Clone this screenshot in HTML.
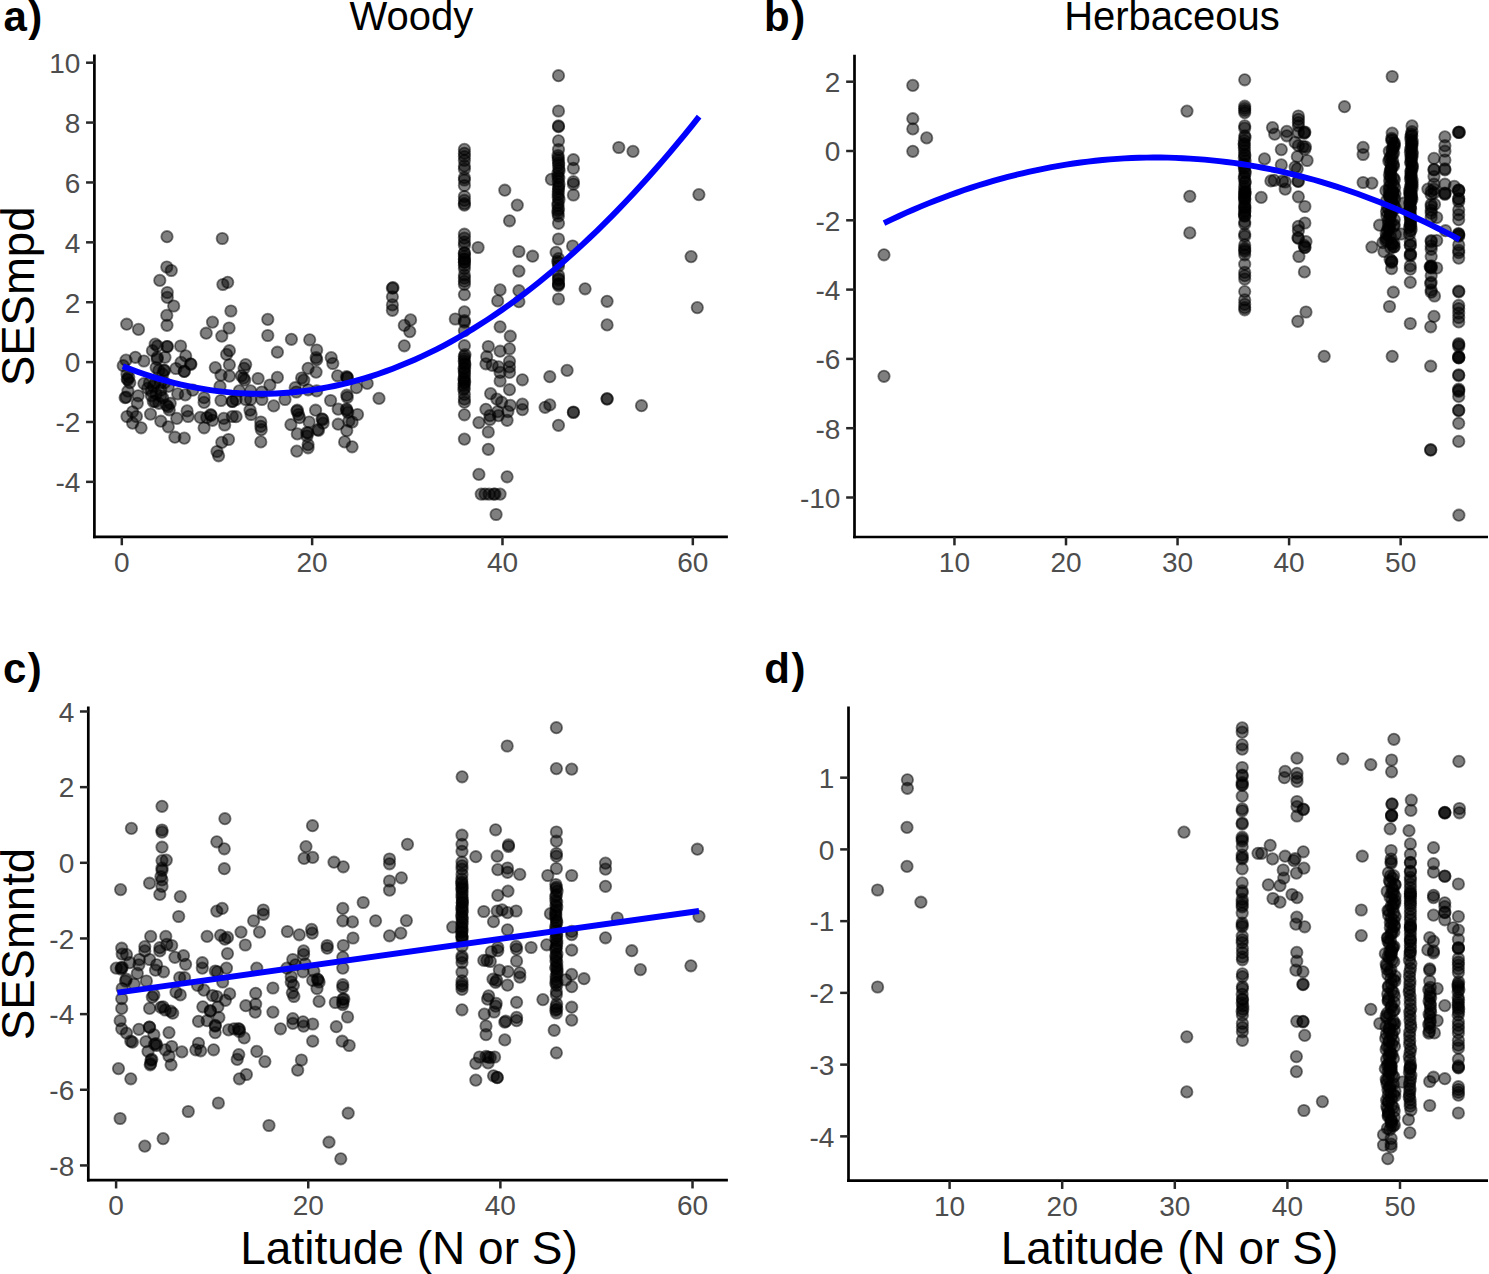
<!DOCTYPE html><html><head><meta charset="utf-8"><style>html,body{margin:0;padding:0;background:#fff;overflow:hidden;}svg{display:block;font-family:"Liberation Sans", sans-serif;}</style></head><body>
<svg width="1489" height="1274" viewBox="0 0 1489 1274">
<rect width="1489" height="1274" fill="#fff"/>
<g fill="#000" fill-opacity="0.5" stroke="#000" stroke-opacity="0.5" stroke-width="1.8">
<circle cx="167.0" cy="236.7" r="5.7"/>
<circle cx="222.3" cy="238.5" r="5.7"/>
<circle cx="166.8" cy="267.0" r="5.7"/>
<circle cx="171.3" cy="270.5" r="5.7"/>
<circle cx="159.8" cy="280.4" r="5.7"/>
<circle cx="222.9" cy="284.5" r="5.7"/>
<circle cx="227.7" cy="282.3" r="5.7"/>
<circle cx="167.3" cy="292.5" r="5.7"/>
<circle cx="167.3" cy="297.4" r="5.7"/>
<circle cx="173.7" cy="306.0" r="5.7"/>
<circle cx="230.9" cy="311.0" r="5.7"/>
<circle cx="166.8" cy="315.4" r="5.7"/>
<circle cx="212.5" cy="322.1" r="5.7"/>
<circle cx="126.7" cy="324.2" r="5.7"/>
<circle cx="138.5" cy="329.4" r="5.7"/>
<circle cx="167.0" cy="325.3" r="5.7"/>
<circle cx="229.1" cy="328.0" r="5.7"/>
<circle cx="206.2" cy="333.2" r="5.7"/>
<circle cx="221.8" cy="336.1" r="5.7"/>
<circle cx="155.2" cy="344.1" r="5.7"/>
<circle cx="157.5" cy="346.0" r="5.7"/>
<circle cx="167.4" cy="346.5" r="5.7"/>
<circle cx="180.6" cy="346.0" r="5.7"/>
<circle cx="152.4" cy="350.7" r="5.7"/>
<circle cx="165.0" cy="357.3" r="5.7"/>
<circle cx="157.1" cy="359.1" r="5.7"/>
<circle cx="185.7" cy="355.9" r="5.7"/>
<circle cx="190.9" cy="364.3" r="5.7"/>
<circle cx="181.0" cy="362.4" r="5.7"/>
<circle cx="184.3" cy="371.4" r="5.7"/>
<circle cx="175.9" cy="368.5" r="5.7"/>
<circle cx="164.6" cy="370.4" r="5.7"/>
<circle cx="156.1" cy="367.6" r="5.7"/>
<circle cx="135.4" cy="357.3" r="5.7"/>
<circle cx="126.0" cy="360.1" r="5.7"/>
<circle cx="143.9" cy="361.0" r="5.7"/>
<circle cx="123.2" cy="365.7" r="5.7"/>
<circle cx="127.9" cy="379.8" r="5.7"/>
<circle cx="128.8" cy="377.0" r="5.7"/>
<circle cx="143.9" cy="383.6" r="5.7"/>
<circle cx="153.3" cy="386.4" r="5.7"/>
<circle cx="160.8" cy="382.7" r="5.7"/>
<circle cx="168.3" cy="386.4" r="5.7"/>
<circle cx="156.1" cy="393.9" r="5.7"/>
<circle cx="127.9" cy="391.1" r="5.7"/>
<circle cx="125.1" cy="397.7" r="5.7"/>
<circle cx="138.2" cy="395.8" r="5.7"/>
<circle cx="137.3" cy="403.3" r="5.7"/>
<circle cx="155.2" cy="401.5" r="5.7"/>
<circle cx="170.2" cy="403.3" r="5.7"/>
<circle cx="177.7" cy="393.9" r="5.7"/>
<circle cx="185.3" cy="394.9" r="5.7"/>
<circle cx="192.8" cy="390.2" r="5.7"/>
<circle cx="204.1" cy="397.7" r="5.7"/>
<circle cx="204.1" cy="402.4" r="5.7"/>
<circle cx="220.0" cy="386.4" r="5.7"/>
<circle cx="221.0" cy="400.5" r="5.7"/>
<circle cx="232.3" cy="401.5" r="5.7"/>
<circle cx="215.3" cy="367.6" r="5.7"/>
<circle cx="221.0" cy="375.1" r="5.7"/>
<circle cx="229.4" cy="376.1" r="5.7"/>
<circle cx="226.6" cy="354.4" r="5.7"/>
<circle cx="229.4" cy="350.7" r="5.7"/>
<circle cx="229.4" cy="364.8" r="5.7"/>
<circle cx="132.6" cy="411.8" r="5.7"/>
<circle cx="127.0" cy="416.5" r="5.7"/>
<circle cx="136.4" cy="416.5" r="5.7"/>
<circle cx="132.6" cy="423.1" r="5.7"/>
<circle cx="141.1" cy="427.8" r="5.7"/>
<circle cx="150.5" cy="414.1" r="5.7"/>
<circle cx="160.8" cy="421.2" r="5.7"/>
<circle cx="168.3" cy="426.8" r="5.7"/>
<circle cx="169.3" cy="409.9" r="5.7"/>
<circle cx="176.8" cy="418.4" r="5.7"/>
<circle cx="187.1" cy="410.9" r="5.7"/>
<circle cx="188.1" cy="416.5" r="5.7"/>
<circle cx="200.3" cy="417.4" r="5.7"/>
<circle cx="210.6" cy="414.6" r="5.7"/>
<circle cx="212.5" cy="420.3" r="5.7"/>
<circle cx="204.1" cy="427.8" r="5.7"/>
<circle cx="223.8" cy="418.4" r="5.7"/>
<circle cx="224.7" cy="425.0" r="5.7"/>
<circle cx="232.3" cy="416.5" r="5.7"/>
<circle cx="174.9" cy="437.2" r="5.7"/>
<circle cx="184.3" cy="438.1" r="5.7"/>
<circle cx="228.5" cy="439.5" r="5.7"/>
<circle cx="151.4" cy="391.1" r="5.7"/>
<circle cx="160.8" cy="390.2" r="5.7"/>
<circle cx="153.3" cy="401.5" r="5.7"/>
<circle cx="162.7" cy="397.7" r="5.7"/>
<circle cx="166.5" cy="405.2" r="5.7"/>
<circle cx="149.5" cy="382.7" r="5.7"/>
<circle cx="127.0" cy="374.2" r="5.7"/>
<circle cx="129.8" cy="382.7" r="5.7"/>
<circle cx="158.9" cy="370.4" r="5.7"/>
<circle cx="162.7" cy="374.2" r="5.7"/>
<circle cx="151.4" cy="395.8" r="5.7"/>
<circle cx="158.9" cy="403.3" r="5.7"/>
<circle cx="164.6" cy="382.7" r="5.7"/>
<circle cx="147.7" cy="388.3" r="5.7"/>
<circle cx="155.2" cy="382.7" r="5.7"/>
<circle cx="160.8" cy="395.8" r="5.7"/>
<circle cx="267.8" cy="319.4" r="5.7"/>
<circle cx="267.8" cy="335.5" r="5.7"/>
<circle cx="291.4" cy="339.3" r="5.7"/>
<circle cx="309.7" cy="339.8" r="5.7"/>
<circle cx="392.4" cy="288.2" r="5.7"/>
<circle cx="392.4" cy="296.8" r="5.7"/>
<circle cx="392.4" cy="304.9" r="5.7"/>
<circle cx="392.4" cy="310.3" r="5.7"/>
<circle cx="277.4" cy="352.2" r="5.7"/>
<circle cx="245.7" cy="364.6" r="5.7"/>
<circle cx="244.1" cy="368.3" r="5.7"/>
<circle cx="243.6" cy="378.0" r="5.7"/>
<circle cx="241.4" cy="375.8" r="5.7"/>
<circle cx="244.7" cy="380.1" r="5.7"/>
<circle cx="258.1" cy="378.5" r="5.7"/>
<circle cx="277.4" cy="377.4" r="5.7"/>
<circle cx="269.9" cy="385.0" r="5.7"/>
<circle cx="239.3" cy="390.9" r="5.7"/>
<circle cx="250.6" cy="390.9" r="5.7"/>
<circle cx="261.9" cy="392.0" r="5.7"/>
<circle cx="236.1" cy="399.5" r="5.7"/>
<circle cx="245.7" cy="399.5" r="5.7"/>
<circle cx="250.6" cy="399.5" r="5.7"/>
<circle cx="261.9" cy="399.5" r="5.7"/>
<circle cx="273.7" cy="405.9" r="5.7"/>
<circle cx="285.0" cy="399.5" r="5.7"/>
<circle cx="296.3" cy="392.0" r="5.7"/>
<circle cx="301.6" cy="378.0" r="5.7"/>
<circle cx="303.8" cy="380.1" r="5.7"/>
<circle cx="295.2" cy="387.7" r="5.7"/>
<circle cx="308.1" cy="368.3" r="5.7"/>
<circle cx="316.1" cy="372.1" r="5.7"/>
<circle cx="316.7" cy="350.0" r="5.7"/>
<circle cx="316.1" cy="357.6" r="5.7"/>
<circle cx="316.7" cy="359.7" r="5.7"/>
<circle cx="331.2" cy="357.6" r="5.7"/>
<circle cx="332.8" cy="363.5" r="5.7"/>
<circle cx="337.6" cy="375.8" r="5.7"/>
<circle cx="347.3" cy="377.4" r="5.7"/>
<circle cx="347.3" cy="378.0" r="5.7"/>
<circle cx="356.4" cy="387.7" r="5.7"/>
<circle cx="367.2" cy="383.4" r="5.7"/>
<circle cx="379.0" cy="398.4" r="5.7"/>
<circle cx="346.8" cy="395.2" r="5.7"/>
<circle cx="347.3" cy="397.3" r="5.7"/>
<circle cx="330.6" cy="400.5" r="5.7"/>
<circle cx="308.1" cy="389.8" r="5.7"/>
<circle cx="316.7" cy="390.9" r="5.7"/>
<circle cx="297.3" cy="410.2" r="5.7"/>
<circle cx="298.4" cy="414.5" r="5.7"/>
<circle cx="299.5" cy="417.7" r="5.7"/>
<circle cx="315.6" cy="410.2" r="5.7"/>
<circle cx="290.9" cy="424.7" r="5.7"/>
<circle cx="309.1" cy="422.0" r="5.7"/>
<circle cx="322.0" cy="418.8" r="5.7"/>
<circle cx="323.1" cy="423.1" r="5.7"/>
<circle cx="317.7" cy="429.6" r="5.7"/>
<circle cx="308.1" cy="432.8" r="5.7"/>
<circle cx="307.0" cy="436.0" r="5.7"/>
<circle cx="297.3" cy="433.9" r="5.7"/>
<circle cx="308.1" cy="444.6" r="5.7"/>
<circle cx="308.1" cy="447.8" r="5.7"/>
<circle cx="296.8" cy="451.1" r="5.7"/>
<circle cx="338.2" cy="409.1" r="5.7"/>
<circle cx="346.8" cy="410.2" r="5.7"/>
<circle cx="347.8" cy="412.4" r="5.7"/>
<circle cx="357.5" cy="414.5" r="5.7"/>
<circle cx="348.9" cy="421.0" r="5.7"/>
<circle cx="352.1" cy="422.0" r="5.7"/>
<circle cx="338.2" cy="424.2" r="5.7"/>
<circle cx="346.8" cy="430.6" r="5.7"/>
<circle cx="344.6" cy="441.9" r="5.7"/>
<circle cx="352.1" cy="446.8" r="5.7"/>
<circle cx="236.1" cy="416.7" r="5.7"/>
<circle cx="250.0" cy="410.2" r="5.7"/>
<circle cx="251.1" cy="414.5" r="5.7"/>
<circle cx="260.8" cy="422.0" r="5.7"/>
<circle cx="260.8" cy="426.3" r="5.7"/>
<circle cx="261.3" cy="429.6" r="5.7"/>
<circle cx="260.8" cy="441.9" r="5.7"/>
<circle cx="221.8" cy="442.4" r="5.7"/>
<circle cx="217.0" cy="451.5" r="5.7"/>
<circle cx="218.6" cy="455.8" r="5.7"/>
<circle cx="464.4" cy="149.4" r="5.7"/>
<circle cx="464.4" cy="153.3" r="5.7"/>
<circle cx="464.4" cy="156.5" r="5.7"/>
<circle cx="464.4" cy="160.4" r="5.7"/>
<circle cx="464.4" cy="165.9" r="5.7"/>
<circle cx="464.4" cy="169.0" r="5.7"/>
<circle cx="464.4" cy="177.7" r="5.7"/>
<circle cx="464.4" cy="180.0" r="5.7"/>
<circle cx="464.4" cy="185.5" r="5.7"/>
<circle cx="464.4" cy="196.5" r="5.7"/>
<circle cx="464.4" cy="200.4" r="5.7"/>
<circle cx="464.4" cy="203.6" r="5.7"/>
<circle cx="464.4" cy="205.1" r="5.7"/>
<circle cx="464.4" cy="234.2" r="5.7"/>
<circle cx="464.4" cy="238.1" r="5.7"/>
<circle cx="464.4" cy="242.0" r="5.7"/>
<circle cx="464.4" cy="245.2" r="5.7"/>
<circle cx="464.4" cy="253.0" r="5.7"/>
<circle cx="464.4" cy="256.2" r="5.7"/>
<circle cx="464.4" cy="259.3" r="5.7"/>
<circle cx="464.4" cy="262.4" r="5.7"/>
<circle cx="464.4" cy="265.6" r="5.7"/>
<circle cx="464.4" cy="268.7" r="5.7"/>
<circle cx="464.4" cy="275.0" r="5.7"/>
<circle cx="464.4" cy="278.1" r="5.7"/>
<circle cx="464.4" cy="281.3" r="5.7"/>
<circle cx="464.4" cy="284.4" r="5.7"/>
<circle cx="464.4" cy="294.6" r="5.7"/>
<circle cx="464.4" cy="311.9" r="5.7"/>
<circle cx="464.4" cy="320.5" r="5.7"/>
<circle cx="464.4" cy="322.1" r="5.7"/>
<circle cx="464.4" cy="330.7" r="5.7"/>
<circle cx="478.1" cy="247.5" r="5.7"/>
<circle cx="504.8" cy="190.2" r="5.7"/>
<circle cx="517.3" cy="205.1" r="5.7"/>
<circle cx="509.5" cy="220.8" r="5.7"/>
<circle cx="518.9" cy="251.5" r="5.7"/>
<circle cx="518.9" cy="271.1" r="5.7"/>
<circle cx="500.1" cy="289.9" r="5.7"/>
<circle cx="497.7" cy="300.9" r="5.7"/>
<circle cx="518.9" cy="290.7" r="5.7"/>
<circle cx="518.9" cy="301.7" r="5.7"/>
<circle cx="455.3" cy="319.0" r="5.7"/>
<circle cx="500.1" cy="326.8" r="5.7"/>
<circle cx="510.3" cy="336.2" r="5.7"/>
<circle cx="464.4" cy="345.7" r="5.7"/>
<circle cx="465.0" cy="354.6" r="5.7"/>
<circle cx="464.3" cy="356.4" r="5.7"/>
<circle cx="464.4" cy="358.7" r="5.7"/>
<circle cx="464.2" cy="361.0" r="5.7"/>
<circle cx="464.7" cy="363.3" r="5.7"/>
<circle cx="464.9" cy="364.8" r="5.7"/>
<circle cx="464.7" cy="367.9" r="5.7"/>
<circle cx="464.0" cy="368.6" r="5.7"/>
<circle cx="464.3" cy="371.7" r="5.7"/>
<circle cx="464.5" cy="373.1" r="5.7"/>
<circle cx="464.5" cy="376.5" r="5.7"/>
<circle cx="464.0" cy="378.6" r="5.7"/>
<circle cx="464.2" cy="380.3" r="5.7"/>
<circle cx="464.7" cy="382.1" r="5.7"/>
<circle cx="464.2" cy="383.0" r="5.7"/>
<circle cx="463.9" cy="385.5" r="5.7"/>
<circle cx="464.4" cy="387.9" r="5.7"/>
<circle cx="463.8" cy="389.6" r="5.7"/>
<circle cx="464.4" cy="394.4" r="5.7"/>
<circle cx="464.4" cy="399.1" r="5.7"/>
<circle cx="464.4" cy="402.2" r="5.7"/>
<circle cx="464.4" cy="414.8" r="5.7"/>
<circle cx="464.4" cy="439.1" r="5.7"/>
<circle cx="488.3" cy="346.5" r="5.7"/>
<circle cx="500.1" cy="351.2" r="5.7"/>
<circle cx="509.5" cy="348.8" r="5.7"/>
<circle cx="486.7" cy="356.7" r="5.7"/>
<circle cx="485.9" cy="363.8" r="5.7"/>
<circle cx="492.2" cy="365.3" r="5.7"/>
<circle cx="498.5" cy="366.9" r="5.7"/>
<circle cx="500.1" cy="372.4" r="5.7"/>
<circle cx="509.5" cy="361.4" r="5.7"/>
<circle cx="509.5" cy="366.9" r="5.7"/>
<circle cx="509.5" cy="372.4" r="5.7"/>
<circle cx="500.1" cy="381.0" r="5.7"/>
<circle cx="509.5" cy="389.7" r="5.7"/>
<circle cx="490.6" cy="393.6" r="5.7"/>
<circle cx="496.9" cy="399.1" r="5.7"/>
<circle cx="501.6" cy="402.2" r="5.7"/>
<circle cx="510.3" cy="405.4" r="5.7"/>
<circle cx="485.9" cy="409.3" r="5.7"/>
<circle cx="489.9" cy="415.6" r="5.7"/>
<circle cx="497.7" cy="411.6" r="5.7"/>
<circle cx="498.5" cy="415.6" r="5.7"/>
<circle cx="507.9" cy="411.6" r="5.7"/>
<circle cx="507.1" cy="420.3" r="5.7"/>
<circle cx="489.9" cy="419.5" r="5.7"/>
<circle cx="478.9" cy="422.6" r="5.7"/>
<circle cx="488.3" cy="432.0" r="5.7"/>
<circle cx="488.3" cy="449.3" r="5.7"/>
<circle cx="478.9" cy="474.4" r="5.7"/>
<circle cx="507.1" cy="476.8" r="5.7"/>
<circle cx="481.2" cy="494.1" r="5.7"/>
<circle cx="489.1" cy="494.1" r="5.7"/>
<circle cx="493.8" cy="494.1" r="5.7"/>
<circle cx="500.1" cy="494.1" r="5.7"/>
<circle cx="496.1" cy="514.5" r="5.7"/>
<circle cx="558.5" cy="75.7" r="5.7"/>
<circle cx="558.5" cy="111.0" r="5.7"/>
<circle cx="558.5" cy="125.9" r="5.7"/>
<circle cx="558.5" cy="126.7" r="5.7"/>
<circle cx="558.5" cy="140.8" r="5.7"/>
<circle cx="558.5" cy="149.5" r="5.7"/>
<circle cx="558.0" cy="155.5" r="5.7"/>
<circle cx="558.3" cy="157.6" r="5.7"/>
<circle cx="558.3" cy="160.2" r="5.7"/>
<circle cx="558.7" cy="162.9" r="5.7"/>
<circle cx="558.6" cy="165.2" r="5.7"/>
<circle cx="558.8" cy="168.7" r="5.7"/>
<circle cx="559.1" cy="170.8" r="5.7"/>
<circle cx="557.9" cy="173.5" r="5.7"/>
<circle cx="558.0" cy="176.6" r="5.7"/>
<circle cx="558.8" cy="178.1" r="5.7"/>
<circle cx="558.2" cy="181.3" r="5.7"/>
<circle cx="559.0" cy="184.5" r="5.7"/>
<circle cx="558.6" cy="186.8" r="5.7"/>
<circle cx="558.5" cy="188.8" r="5.7"/>
<circle cx="558.3" cy="191.5" r="5.7"/>
<circle cx="558.2" cy="194.4" r="5.7"/>
<circle cx="558.2" cy="197.3" r="5.7"/>
<circle cx="559.0" cy="199.5" r="5.7"/>
<circle cx="558.1" cy="203.0" r="5.7"/>
<circle cx="557.9" cy="205.4" r="5.7"/>
<circle cx="558.6" cy="208.8" r="5.7"/>
<circle cx="557.9" cy="210.7" r="5.7"/>
<circle cx="558.0" cy="213.3" r="5.7"/>
<circle cx="558.4" cy="216.0" r="5.7"/>
<circle cx="558.5" cy="223.3" r="5.7"/>
<circle cx="558.5" cy="239.0" r="5.7"/>
<circle cx="556.1" cy="252.3" r="5.7"/>
<circle cx="558.5" cy="258.6" r="5.7"/>
<circle cx="573.4" cy="159.7" r="5.7"/>
<circle cx="573.4" cy="168.3" r="5.7"/>
<circle cx="573.4" cy="181.7" r="5.7"/>
<circle cx="573.4" cy="184.0" r="5.7"/>
<circle cx="573.4" cy="195.0" r="5.7"/>
<circle cx="551.4" cy="179.3" r="5.7"/>
<circle cx="532.6" cy="256.2" r="5.7"/>
<circle cx="572.6" cy="246.0" r="5.7"/>
<circle cx="557.7" cy="261.3" r="5.7"/>
<circle cx="558.5" cy="266.0" r="5.7"/>
<circle cx="558.5" cy="275.4" r="5.7"/>
<circle cx="558.5" cy="278.5" r="5.7"/>
<circle cx="558.5" cy="284.0" r="5.7"/>
<circle cx="558.5" cy="285.6" r="5.7"/>
<circle cx="558.5" cy="299.0" r="5.7"/>
<circle cx="585.1" cy="288.8" r="5.7"/>
<circle cx="607.1" cy="301.3" r="5.7"/>
<circle cx="607.1" cy="324.9" r="5.7"/>
<circle cx="522.4" cy="379.8" r="5.7"/>
<circle cx="549.8" cy="376.7" r="5.7"/>
<circle cx="567.1" cy="370.4" r="5.7"/>
<circle cx="522.4" cy="404.1" r="5.7"/>
<circle cx="522.4" cy="409.6" r="5.7"/>
<circle cx="545.1" cy="407.3" r="5.7"/>
<circle cx="549.8" cy="404.9" r="5.7"/>
<circle cx="573.4" cy="412.0" r="5.7"/>
<circle cx="573.4" cy="412.5" r="5.7"/>
<circle cx="558.5" cy="425.3" r="5.7"/>
<circle cx="607.1" cy="398.6" r="5.7"/>
<circle cx="607.1" cy="399.1" r="5.7"/>
<circle cx="618.8" cy="147.5" r="5.7"/>
<circle cx="633.0" cy="151.4" r="5.7"/>
<circle cx="698.9" cy="194.6" r="5.7"/>
<circle cx="691.1" cy="256.6" r="5.7"/>
<circle cx="697.3" cy="307.6" r="5.7"/>
<circle cx="641.5" cy="405.7" r="5.7"/>
<circle cx="393.0" cy="287.7" r="5.7"/>
<circle cx="404.3" cy="325.4" r="5.7"/>
<circle cx="410.6" cy="319.9" r="5.7"/>
<circle cx="409.8" cy="331.6" r="5.7"/>
<circle cx="404.3" cy="345.8" r="5.7"/>
<circle cx="485.0" cy="494.0" r="5.7"/>
<circle cx="495.0" cy="494.0" r="5.7"/>
<circle cx="167.0" cy="346.6" r="5.7"/>
<circle cx="190.6" cy="363.8" r="5.7"/>
<circle cx="184.2" cy="371.3" r="5.7"/>
<circle cx="127.2" cy="378.9" r="5.7"/>
<circle cx="126.2" cy="397.1" r="5.7"/>
<circle cx="163.8" cy="370.3" r="5.7"/>
<circle cx="157.3" cy="357.4" r="5.7"/>
<circle cx="168.1" cy="406.8" r="5.7"/>
<circle cx="232.5" cy="401.4" r="5.7"/>
<circle cx="206.8" cy="417.5" r="5.7"/>
<circle cx="211.1" cy="415.4" r="5.7"/>
<circle cx="346.5" cy="409.0" r="5.7"/>
<circle cx="346.5" cy="376.7" r="5.7"/>
<circle cx="306.7" cy="432.6" r="5.7"/>
<circle cx="318.5" cy="430.4" r="5.7"/>
<circle cx="322.8" cy="419.7" r="5.7"/>
<circle cx="297.0" cy="411.1" r="5.7"/>
<circle cx="464.4" cy="253.0" r="5.7"/>
<circle cx="464.4" cy="259.0" r="5.7"/>
<circle cx="558.5" cy="263.0" r="5.7"/>
<circle cx="558.5" cy="280.0" r="5.7"/>
<circle cx="558.5" cy="284.0" r="5.7"/>
<circle cx="464.4" cy="262.0" r="5.7"/>
</g>
<g fill="#000" fill-opacity="0.5" stroke="#000" stroke-opacity="0.5" stroke-width="1.8">
<circle cx="912.8" cy="85.4" r="5.7"/>
<circle cx="912.8" cy="118.7" r="5.7"/>
<circle cx="912.8" cy="128.9" r="5.7"/>
<circle cx="926.7" cy="137.9" r="5.7"/>
<circle cx="912.8" cy="151.3" r="5.7"/>
<circle cx="884.0" cy="254.8" r="5.7"/>
<circle cx="884.0" cy="376.3" r="5.7"/>
<circle cx="1187.0" cy="111.1" r="5.7"/>
<circle cx="1189.8" cy="196.3" r="5.7"/>
<circle cx="1244.7" cy="79.8" r="5.7"/>
<circle cx="1244.7" cy="106.2" r="5.7"/>
<circle cx="1244.7" cy="108.4" r="5.7"/>
<circle cx="1244.7" cy="110.5" r="5.7"/>
<circle cx="1244.7" cy="112.7" r="5.7"/>
<circle cx="1244.7" cy="125.9" r="5.7"/>
<circle cx="1244.7" cy="128.1" r="5.7"/>
<circle cx="1244.8" cy="135.8" r="5.7"/>
<circle cx="1245.0" cy="137.5" r="5.7"/>
<circle cx="1244.3" cy="140.6" r="5.7"/>
<circle cx="1244.2" cy="143.6" r="5.7"/>
<circle cx="1244.3" cy="145.1" r="5.7"/>
<circle cx="1244.3" cy="147.6" r="5.7"/>
<circle cx="1244.5" cy="150.6" r="5.7"/>
<circle cx="1244.6" cy="154.2" r="5.7"/>
<circle cx="1244.9" cy="155.7" r="5.7"/>
<circle cx="1244.3" cy="158.0" r="5.7"/>
<circle cx="1245.1" cy="160.7" r="5.7"/>
<circle cx="1244.3" cy="164.2" r="5.7"/>
<circle cx="1244.3" cy="166.6" r="5.7"/>
<circle cx="1244.4" cy="168.5" r="5.7"/>
<circle cx="1245.0" cy="171.0" r="5.7"/>
<circle cx="1245.2" cy="173.1" r="5.7"/>
<circle cx="1244.4" cy="176.3" r="5.7"/>
<circle cx="1244.3" cy="178.4" r="5.7"/>
<circle cx="1245.1" cy="181.7" r="5.7"/>
<circle cx="1245.1" cy="182.7" r="5.7"/>
<circle cx="1244.6" cy="186.4" r="5.7"/>
<circle cx="1244.8" cy="188.8" r="5.7"/>
<circle cx="1244.7" cy="191.9" r="5.7"/>
<circle cx="1245.0" cy="193.2" r="5.7"/>
<circle cx="1244.6" cy="195.9" r="5.7"/>
<circle cx="1244.9" cy="198.7" r="5.7"/>
<circle cx="1264.5" cy="158.9" r="5.7"/>
<circle cx="1261.2" cy="197.4" r="5.7"/>
<circle cx="1189.8" cy="232.9" r="5.7"/>
<circle cx="1244.9" cy="191.5" r="5.7"/>
<circle cx="1244.9" cy="193.8" r="5.7"/>
<circle cx="1244.5" cy="197.1" r="5.7"/>
<circle cx="1244.6" cy="199.6" r="5.7"/>
<circle cx="1244.8" cy="202.7" r="5.7"/>
<circle cx="1244.6" cy="206.0" r="5.7"/>
<circle cx="1244.9" cy="207.2" r="5.7"/>
<circle cx="1244.9" cy="210.6" r="5.7"/>
<circle cx="1244.4" cy="213.9" r="5.7"/>
<circle cx="1244.7" cy="215.8" r="5.7"/>
<circle cx="1244.7" cy="221.9" r="5.7"/>
<circle cx="1244.7" cy="224.1" r="5.7"/>
<circle cx="1244.7" cy="234.0" r="5.7"/>
<circle cx="1244.7" cy="236.2" r="5.7"/>
<circle cx="1244.7" cy="244.9" r="5.7"/>
<circle cx="1244.7" cy="248.2" r="5.7"/>
<circle cx="1244.7" cy="249.9" r="5.7"/>
<circle cx="1244.7" cy="251.5" r="5.7"/>
<circle cx="1244.7" cy="254.8" r="5.7"/>
<circle cx="1244.7" cy="264.2" r="5.7"/>
<circle cx="1244.7" cy="272.4" r="5.7"/>
<circle cx="1244.7" cy="275.7" r="5.7"/>
<circle cx="1244.7" cy="279.0" r="5.7"/>
<circle cx="1244.7" cy="291.6" r="5.7"/>
<circle cx="1244.7" cy="299.9" r="5.7"/>
<circle cx="1244.7" cy="304.3" r="5.7"/>
<circle cx="1244.7" cy="307.6" r="5.7"/>
<circle cx="1244.7" cy="309.8" r="5.7"/>
<circle cx="1344.5" cy="106.7" r="5.7"/>
<circle cx="1272.5" cy="127.6" r="5.7"/>
<circle cx="1274.7" cy="134.2" r="5.7"/>
<circle cx="1286.8" cy="131.4" r="5.7"/>
<circle cx="1286.8" cy="135.8" r="5.7"/>
<circle cx="1298.4" cy="116.0" r="5.7"/>
<circle cx="1298.4" cy="119.3" r="5.7"/>
<circle cx="1298.4" cy="122.6" r="5.7"/>
<circle cx="1298.4" cy="125.9" r="5.7"/>
<circle cx="1304.9" cy="132.0" r="5.7"/>
<circle cx="1298.4" cy="132.5" r="5.7"/>
<circle cx="1295.1" cy="142.4" r="5.7"/>
<circle cx="1298.4" cy="145.7" r="5.7"/>
<circle cx="1305.5" cy="146.8" r="5.7"/>
<circle cx="1304.9" cy="149.0" r="5.7"/>
<circle cx="1281.3" cy="149.6" r="5.7"/>
<circle cx="1297.3" cy="156.7" r="5.7"/>
<circle cx="1307.1" cy="160.5" r="5.7"/>
<circle cx="1281.3" cy="164.9" r="5.7"/>
<circle cx="1295.1" cy="167.1" r="5.7"/>
<circle cx="1297.3" cy="168.8" r="5.7"/>
<circle cx="1270.9" cy="180.9" r="5.7"/>
<circle cx="1274.2" cy="180.3" r="5.7"/>
<circle cx="1285.2" cy="182.0" r="5.7"/>
<circle cx="1285.2" cy="189.1" r="5.7"/>
<circle cx="1298.4" cy="181.4" r="5.7"/>
<circle cx="1298.4" cy="196.8" r="5.7"/>
<circle cx="1304.9" cy="206.5" r="5.7"/>
<circle cx="1304.9" cy="223.0" r="5.7"/>
<circle cx="1298.4" cy="226.3" r="5.7"/>
<circle cx="1298.4" cy="230.7" r="5.7"/>
<circle cx="1298.4" cy="238.4" r="5.7"/>
<circle cx="1306.0" cy="241.6" r="5.7"/>
<circle cx="1304.9" cy="247.1" r="5.7"/>
<circle cx="1304.9" cy="247.7" r="5.7"/>
<circle cx="1298.9" cy="256.5" r="5.7"/>
<circle cx="1304.4" cy="271.9" r="5.7"/>
<circle cx="1306.0" cy="312.0" r="5.7"/>
<circle cx="1297.8" cy="321.3" r="5.7"/>
<circle cx="1392.2" cy="76.5" r="5.7"/>
<circle cx="1363.1" cy="147.4" r="5.7"/>
<circle cx="1363.1" cy="154.5" r="5.7"/>
<circle cx="1363.1" cy="182.5" r="5.7"/>
<circle cx="1371.9" cy="183.1" r="5.7"/>
<circle cx="1392.2" cy="133.1" r="5.7"/>
<circle cx="1391.7" cy="138.4" r="5.7"/>
<circle cx="1392.3" cy="139.8" r="5.7"/>
<circle cx="1391.8" cy="140.7" r="5.7"/>
<circle cx="1394.4" cy="143.0" r="5.7"/>
<circle cx="1393.9" cy="143.7" r="5.7"/>
<circle cx="1394.2" cy="146.2" r="5.7"/>
<circle cx="1393.8" cy="146.4" r="5.7"/>
<circle cx="1392.2" cy="149.3" r="5.7"/>
<circle cx="1392.4" cy="150.0" r="5.7"/>
<circle cx="1389.3" cy="151.2" r="5.7"/>
<circle cx="1393.6" cy="153.1" r="5.7"/>
<circle cx="1392.3" cy="155.2" r="5.7"/>
<circle cx="1390.8" cy="156.3" r="5.7"/>
<circle cx="1389.7" cy="158.7" r="5.7"/>
<circle cx="1392.6" cy="160.6" r="5.7"/>
<circle cx="1388.8" cy="161.1" r="5.7"/>
<circle cx="1390.7" cy="162.9" r="5.7"/>
<circle cx="1393.3" cy="164.5" r="5.7"/>
<circle cx="1393.5" cy="166.1" r="5.7"/>
<circle cx="1391.5" cy="167.2" r="5.7"/>
<circle cx="1390.9" cy="169.2" r="5.7"/>
<circle cx="1390.8" cy="170.7" r="5.7"/>
<circle cx="1390.2" cy="171.5" r="5.7"/>
<circle cx="1389.4" cy="174.9" r="5.7"/>
<circle cx="1390.8" cy="176.0" r="5.7"/>
<circle cx="1393.4" cy="177.8" r="5.7"/>
<circle cx="1390.8" cy="178.1" r="5.7"/>
<circle cx="1394.4" cy="179.6" r="5.7"/>
<circle cx="1389.6" cy="181.1" r="5.7"/>
<circle cx="1391.1" cy="183.3" r="5.7"/>
<circle cx="1393.4" cy="184.4" r="5.7"/>
<circle cx="1389.5" cy="186.8" r="5.7"/>
<circle cx="1394.6" cy="187.6" r="5.7"/>
<circle cx="1389.1" cy="190.1" r="5.7"/>
<circle cx="1393.2" cy="191.8" r="5.7"/>
<circle cx="1390.0" cy="191.9" r="5.7"/>
<circle cx="1392.4" cy="193.8" r="5.7"/>
<circle cx="1389.8" cy="195.7" r="5.7"/>
<circle cx="1389.8" cy="197.3" r="5.7"/>
<circle cx="1391.1" cy="199.3" r="5.7"/>
<circle cx="1412.0" cy="125.9" r="5.7"/>
<circle cx="1412.0" cy="131.6" r="5.7"/>
<circle cx="1411.4" cy="133.9" r="5.7"/>
<circle cx="1411.8" cy="135.7" r="5.7"/>
<circle cx="1410.8" cy="136.7" r="5.7"/>
<circle cx="1410.9" cy="139.6" r="5.7"/>
<circle cx="1412.3" cy="141.1" r="5.7"/>
<circle cx="1411.3" cy="143.4" r="5.7"/>
<circle cx="1412.2" cy="143.9" r="5.7"/>
<circle cx="1411.6" cy="145.5" r="5.7"/>
<circle cx="1411.7" cy="148.3" r="5.7"/>
<circle cx="1410.6" cy="149.2" r="5.7"/>
<circle cx="1412.1" cy="151.7" r="5.7"/>
<circle cx="1410.4" cy="152.6" r="5.7"/>
<circle cx="1412.3" cy="154.2" r="5.7"/>
<circle cx="1410.9" cy="156.6" r="5.7"/>
<circle cx="1411.9" cy="157.3" r="5.7"/>
<circle cx="1411.3" cy="159.0" r="5.7"/>
<circle cx="1411.3" cy="161.8" r="5.7"/>
<circle cx="1410.5" cy="162.6" r="5.7"/>
<circle cx="1412.1" cy="165.1" r="5.7"/>
<circle cx="1412.3" cy="166.3" r="5.7"/>
<circle cx="1412.2" cy="168.4" r="5.7"/>
<circle cx="1411.4" cy="170.5" r="5.7"/>
<circle cx="1410.7" cy="171.6" r="5.7"/>
<circle cx="1411.2" cy="173.9" r="5.7"/>
<circle cx="1410.9" cy="175.8" r="5.7"/>
<circle cx="1411.1" cy="177.4" r="5.7"/>
<circle cx="1410.4" cy="178.9" r="5.7"/>
<circle cx="1412.2" cy="180.4" r="5.7"/>
<circle cx="1411.3" cy="181.9" r="5.7"/>
<circle cx="1412.3" cy="184.6" r="5.7"/>
<circle cx="1411.3" cy="185.2" r="5.7"/>
<circle cx="1410.5" cy="186.4" r="5.7"/>
<circle cx="1412.1" cy="188.4" r="5.7"/>
<circle cx="1410.8" cy="189.7" r="5.7"/>
<circle cx="1411.0" cy="193.0" r="5.7"/>
<circle cx="1411.2" cy="194.2" r="5.7"/>
<circle cx="1410.6" cy="195.2" r="5.7"/>
<circle cx="1411.1" cy="197.3" r="5.7"/>
<circle cx="1411.9" cy="199.2" r="5.7"/>
<circle cx="1444.9" cy="136.9" r="5.7"/>
<circle cx="1444.9" cy="145.7" r="5.7"/>
<circle cx="1444.9" cy="151.2" r="5.7"/>
<circle cx="1444.9" cy="160.0" r="5.7"/>
<circle cx="1444.9" cy="168.8" r="5.7"/>
<circle cx="1444.9" cy="169.9" r="5.7"/>
<circle cx="1444.9" cy="184.2" r="5.7"/>
<circle cx="1444.9" cy="193.0" r="5.7"/>
<circle cx="1444.9" cy="193.5" r="5.7"/>
<circle cx="1434.0" cy="158.4" r="5.7"/>
<circle cx="1434.0" cy="169.3" r="5.7"/>
<circle cx="1434.0" cy="169.9" r="5.7"/>
<circle cx="1434.0" cy="176.5" r="5.7"/>
<circle cx="1434.0" cy="184.2" r="5.7"/>
<circle cx="1434.0" cy="189.1" r="5.7"/>
<circle cx="1434.0" cy="193.0" r="5.7"/>
<circle cx="1427.9" cy="189.1" r="5.7"/>
<circle cx="1459.2" cy="132.0" r="5.7"/>
<circle cx="1459.2" cy="132.5" r="5.7"/>
<circle cx="1454.3" cy="186.4" r="5.7"/>
<circle cx="1458.7" cy="190.2" r="5.7"/>
<circle cx="1458.7" cy="198.5" r="5.7"/>
<circle cx="1458.7" cy="199.0" r="5.7"/>
<circle cx="1385.9" cy="190.7" r="5.7"/>
<circle cx="1392.4" cy="191.6" r="5.7"/>
<circle cx="1395.0" cy="193.8" r="5.7"/>
<circle cx="1389.3" cy="195.6" r="5.7"/>
<circle cx="1393.0" cy="195.6" r="5.7"/>
<circle cx="1390.9" cy="196.9" r="5.7"/>
<circle cx="1394.7" cy="199.0" r="5.7"/>
<circle cx="1386.8" cy="200.5" r="5.7"/>
<circle cx="1391.1" cy="201.7" r="5.7"/>
<circle cx="1391.9" cy="202.2" r="5.7"/>
<circle cx="1393.7" cy="204.6" r="5.7"/>
<circle cx="1390.5" cy="205.7" r="5.7"/>
<circle cx="1387.3" cy="207.3" r="5.7"/>
<circle cx="1395.3" cy="208.2" r="5.7"/>
<circle cx="1389.0" cy="209.0" r="5.7"/>
<circle cx="1392.3" cy="211.4" r="5.7"/>
<circle cx="1386.5" cy="211.6" r="5.7"/>
<circle cx="1390.6" cy="212.7" r="5.7"/>
<circle cx="1390.5" cy="215.0" r="5.7"/>
<circle cx="1390.4" cy="214.9" r="5.7"/>
<circle cx="1386.9" cy="216.1" r="5.7"/>
<circle cx="1389.7" cy="217.4" r="5.7"/>
<circle cx="1394.3" cy="219.6" r="5.7"/>
<circle cx="1388.4" cy="220.7" r="5.7"/>
<circle cx="1390.8" cy="222.6" r="5.7"/>
<circle cx="1388.5" cy="224.4" r="5.7"/>
<circle cx="1394.0" cy="224.5" r="5.7"/>
<circle cx="1394.0" cy="226.2" r="5.7"/>
<circle cx="1389.3" cy="227.4" r="5.7"/>
<circle cx="1388.3" cy="228.2" r="5.7"/>
<circle cx="1389.6" cy="229.5" r="5.7"/>
<circle cx="1387.3" cy="230.6" r="5.7"/>
<circle cx="1386.2" cy="233.5" r="5.7"/>
<circle cx="1395.3" cy="234.5" r="5.7"/>
<circle cx="1390.1" cy="236.2" r="5.7"/>
<circle cx="1388.5" cy="236.0" r="5.7"/>
<circle cx="1386.0" cy="237.8" r="5.7"/>
<circle cx="1385.6" cy="240.4" r="5.7"/>
<circle cx="1387.1" cy="239.8" r="5.7"/>
<circle cx="1391.5" cy="243.0" r="5.7"/>
<circle cx="1393.9" cy="243.3" r="5.7"/>
<circle cx="1392.5" cy="244.6" r="5.7"/>
<circle cx="1393.7" cy="247.0" r="5.7"/>
<circle cx="1394.2" cy="246.7" r="5.7"/>
<circle cx="1390.8" cy="247.9" r="5.7"/>
<circle cx="1384.0" cy="251.5" r="5.7"/>
<circle cx="1391.6" cy="261.4" r="5.7"/>
<circle cx="1391.6" cy="262.5" r="5.7"/>
<circle cx="1391.6" cy="268.6" r="5.7"/>
<circle cx="1379.6" cy="225.2" r="5.7"/>
<circle cx="1382.9" cy="242.7" r="5.7"/>
<circle cx="1401.0" cy="234.0" r="5.7"/>
<circle cx="1371.9" cy="247.1" r="5.7"/>
<circle cx="1393.3" cy="292.2" r="5.7"/>
<circle cx="1389.5" cy="306.5" r="5.7"/>
<circle cx="1409.6" cy="190.3" r="5.7"/>
<circle cx="1410.1" cy="193.5" r="5.7"/>
<circle cx="1409.7" cy="193.9" r="5.7"/>
<circle cx="1411.0" cy="196.2" r="5.7"/>
<circle cx="1411.2" cy="197.6" r="5.7"/>
<circle cx="1410.5" cy="199.6" r="5.7"/>
<circle cx="1410.9" cy="201.4" r="5.7"/>
<circle cx="1410.0" cy="202.5" r="5.7"/>
<circle cx="1409.7" cy="203.6" r="5.7"/>
<circle cx="1410.4" cy="206.7" r="5.7"/>
<circle cx="1410.1" cy="208.3" r="5.7"/>
<circle cx="1410.6" cy="209.1" r="5.7"/>
<circle cx="1409.3" cy="211.2" r="5.7"/>
<circle cx="1409.5" cy="212.3" r="5.7"/>
<circle cx="1410.5" cy="214.3" r="5.7"/>
<circle cx="1410.0" cy="215.6" r="5.7"/>
<circle cx="1410.3" cy="216.9" r="5.7"/>
<circle cx="1411.2" cy="219.6" r="5.7"/>
<circle cx="1410.4" cy="220.5" r="5.7"/>
<circle cx="1410.3" cy="223.9" r="5.7"/>
<circle cx="1410.4" cy="224.7" r="5.7"/>
<circle cx="1410.8" cy="226.2" r="5.7"/>
<circle cx="1409.4" cy="227.7" r="5.7"/>
<circle cx="1411.2" cy="229.5" r="5.7"/>
<circle cx="1410.3" cy="230.9" r="5.7"/>
<circle cx="1409.5" cy="234.1" r="5.7"/>
<circle cx="1410.3" cy="241.6" r="5.7"/>
<circle cx="1410.3" cy="244.9" r="5.7"/>
<circle cx="1410.3" cy="245.5" r="5.7"/>
<circle cx="1410.3" cy="254.3" r="5.7"/>
<circle cx="1410.3" cy="255.9" r="5.7"/>
<circle cx="1410.3" cy="265.8" r="5.7"/>
<circle cx="1410.3" cy="269.1" r="5.7"/>
<circle cx="1410.3" cy="282.3" r="5.7"/>
<circle cx="1410.3" cy="323.5" r="5.7"/>
<circle cx="1403.2" cy="203.2" r="5.7"/>
<circle cx="1431.2" cy="191.1" r="5.7"/>
<circle cx="1431.2" cy="194.4" r="5.7"/>
<circle cx="1431.2" cy="204.3" r="5.7"/>
<circle cx="1431.2" cy="206.5" r="5.7"/>
<circle cx="1431.2" cy="210.3" r="5.7"/>
<circle cx="1431.2" cy="213.1" r="5.7"/>
<circle cx="1431.2" cy="217.5" r="5.7"/>
<circle cx="1431.2" cy="240.5" r="5.7"/>
<circle cx="1431.2" cy="241.6" r="5.7"/>
<circle cx="1431.2" cy="246.0" r="5.7"/>
<circle cx="1431.2" cy="249.3" r="5.7"/>
<circle cx="1431.2" cy="256.5" r="5.7"/>
<circle cx="1431.2" cy="265.8" r="5.7"/>
<circle cx="1431.2" cy="266.9" r="5.7"/>
<circle cx="1431.2" cy="268.0" r="5.7"/>
<circle cx="1431.2" cy="275.7" r="5.7"/>
<circle cx="1431.2" cy="282.3" r="5.7"/>
<circle cx="1431.2" cy="290.0" r="5.7"/>
<circle cx="1431.2" cy="292.2" r="5.7"/>
<circle cx="1434.5" cy="296.0" r="5.7"/>
<circle cx="1434.0" cy="316.4" r="5.7"/>
<circle cx="1430.7" cy="326.8" r="5.7"/>
<circle cx="1434.5" cy="204.3" r="5.7"/>
<circle cx="1436.7" cy="217.5" r="5.7"/>
<circle cx="1436.7" cy="240.5" r="5.7"/>
<circle cx="1436.7" cy="268.0" r="5.7"/>
<circle cx="1444.9" cy="194.4" r="5.7"/>
<circle cx="1445.5" cy="230.7" r="5.7"/>
<circle cx="1458.7" cy="190.0" r="5.7"/>
<circle cx="1458.7" cy="191.1" r="5.7"/>
<circle cx="1458.7" cy="201.5" r="5.7"/>
<circle cx="1458.7" cy="209.8" r="5.7"/>
<circle cx="1458.7" cy="214.7" r="5.7"/>
<circle cx="1458.7" cy="219.7" r="5.7"/>
<circle cx="1458.7" cy="234.0" r="5.7"/>
<circle cx="1458.7" cy="235.1" r="5.7"/>
<circle cx="1458.7" cy="236.2" r="5.7"/>
<circle cx="1458.7" cy="244.9" r="5.7"/>
<circle cx="1458.7" cy="250.4" r="5.7"/>
<circle cx="1458.7" cy="252.6" r="5.7"/>
<circle cx="1458.7" cy="258.1" r="5.7"/>
<circle cx="1458.7" cy="291.1" r="5.7"/>
<circle cx="1458.7" cy="305.4" r="5.7"/>
<circle cx="1458.7" cy="308.7" r="5.7"/>
<circle cx="1458.7" cy="313.1" r="5.7"/>
<circle cx="1458.7" cy="317.5" r="5.7"/>
<circle cx="1458.7" cy="321.9" r="5.7"/>
<circle cx="1392.2" cy="356.3" r="5.7"/>
<circle cx="1430.7" cy="366.2" r="5.7"/>
<circle cx="1458.7" cy="343.6" r="5.7"/>
<circle cx="1458.7" cy="346.4" r="5.7"/>
<circle cx="1458.7" cy="356.3" r="5.7"/>
<circle cx="1458.7" cy="357.4" r="5.7"/>
<circle cx="1458.7" cy="357.9" r="5.7"/>
<circle cx="1458.7" cy="374.9" r="5.7"/>
<circle cx="1458.7" cy="375.5" r="5.7"/>
<circle cx="1458.7" cy="389.2" r="5.7"/>
<circle cx="1458.7" cy="390.3" r="5.7"/>
<circle cx="1458.7" cy="391.4" r="5.7"/>
<circle cx="1458.7" cy="396.4" r="5.7"/>
<circle cx="1458.7" cy="410.1" r="5.7"/>
<circle cx="1458.7" cy="410.7" r="5.7"/>
<circle cx="1458.7" cy="423.3" r="5.7"/>
<circle cx="1458.7" cy="441.4" r="5.7"/>
<circle cx="1430.7" cy="449.7" r="5.7"/>
<circle cx="1430.7" cy="450.2" r="5.7"/>
<circle cx="1458.9" cy="515.2" r="5.7"/>
<circle cx="1324.2" cy="356.3" r="5.7"/>
<circle cx="1304.2" cy="132.4" r="5.7"/>
<circle cx="1304.2" cy="133.4" r="5.7"/>
<circle cx="1303.0" cy="146.5" r="5.7"/>
<circle cx="1304.2" cy="245.4" r="5.7"/>
<circle cx="1390.1" cy="259.5" r="5.7"/>
<circle cx="1430.1" cy="266.6" r="5.7"/>
<circle cx="1458.4" cy="132.4" r="5.7"/>
<circle cx="1458.4" cy="233.6" r="5.7"/>
<circle cx="1430.6" cy="267.1" r="5.7"/>
<circle cx="1458.8" cy="344.7" r="5.7"/>
<circle cx="1458.8" cy="357.6" r="5.7"/>
<circle cx="1458.8" cy="291.8" r="5.7"/>
<circle cx="1410.6" cy="254.1" r="5.7"/>
<circle cx="1391.8" cy="261.2" r="5.7"/>
<circle cx="1430.6" cy="283.5" r="5.7"/>
<circle cx="1244.7" cy="208.0" r="5.7"/>
<circle cx="1244.7" cy="212.0" r="5.7"/>
<circle cx="1244.7" cy="216.0" r="5.7"/>
<circle cx="1282.4" cy="181.2" r="5.7"/>
<circle cx="1297.9" cy="181.2" r="5.7"/>
<circle cx="1297.9" cy="237.7" r="5.7"/>
</g>
<g fill="#000" fill-opacity="0.5" stroke="#000" stroke-opacity="0.5" stroke-width="1.8">
<circle cx="162.0" cy="806.3" r="5.7"/>
<circle cx="131.4" cy="828.4" r="5.7"/>
<circle cx="162.0" cy="830.0" r="5.7"/>
<circle cx="162.0" cy="832.1" r="5.7"/>
<circle cx="162.0" cy="847.2" r="5.7"/>
<circle cx="162.0" cy="860.6" r="5.7"/>
<circle cx="166.3" cy="860.1" r="5.7"/>
<circle cx="162.0" cy="868.1" r="5.7"/>
<circle cx="162.0" cy="870.3" r="5.7"/>
<circle cx="160.9" cy="876.7" r="5.7"/>
<circle cx="162.0" cy="879.9" r="5.7"/>
<circle cx="162.0" cy="886.4" r="5.7"/>
<circle cx="149.6" cy="883.2" r="5.7"/>
<circle cx="120.6" cy="889.6" r="5.7"/>
<circle cx="159.8" cy="894.4" r="5.7"/>
<circle cx="180.3" cy="896.6" r="5.7"/>
<circle cx="224.9" cy="818.7" r="5.7"/>
<circle cx="216.8" cy="841.8" r="5.7"/>
<circle cx="224.3" cy="848.8" r="5.7"/>
<circle cx="224.3" cy="868.7" r="5.7"/>
<circle cx="178.7" cy="916.5" r="5.7"/>
<circle cx="216.8" cy="911.1" r="5.7"/>
<circle cx="222.2" cy="908.4" r="5.7"/>
<circle cx="150.7" cy="936.4" r="5.7"/>
<circle cx="165.8" cy="936.4" r="5.7"/>
<circle cx="207.1" cy="936.4" r="5.7"/>
<circle cx="220.6" cy="935.3" r="5.7"/>
<circle cx="224.9" cy="939.1" r="5.7"/>
<circle cx="227.5" cy="937.4" r="5.7"/>
<circle cx="241.0" cy="932.1" r="5.7"/>
<circle cx="245.3" cy="945.0" r="5.7"/>
<circle cx="227.5" cy="953.6" r="5.7"/>
<circle cx="121.7" cy="948.2" r="5.7"/>
<circle cx="122.2" cy="954.1" r="5.7"/>
<circle cx="126.5" cy="954.6" r="5.7"/>
<circle cx="144.8" cy="946.6" r="5.7"/>
<circle cx="144.8" cy="950.9" r="5.7"/>
<circle cx="159.8" cy="947.7" r="5.7"/>
<circle cx="159.8" cy="950.9" r="5.7"/>
<circle cx="166.8" cy="944.4" r="5.7"/>
<circle cx="171.7" cy="945.5" r="5.7"/>
<circle cx="149.6" cy="959.5" r="5.7"/>
<circle cx="139.4" cy="959.5" r="5.7"/>
<circle cx="138.9" cy="964.8" r="5.7"/>
<circle cx="129.8" cy="962.7" r="5.7"/>
<circle cx="116.3" cy="968.1" r="5.7"/>
<circle cx="121.2" cy="969.1" r="5.7"/>
<circle cx="122.2" cy="967.5" r="5.7"/>
<circle cx="156.6" cy="964.8" r="5.7"/>
<circle cx="155.5" cy="970.2" r="5.7"/>
<circle cx="163.6" cy="971.8" r="5.7"/>
<circle cx="137.3" cy="973.4" r="5.7"/>
<circle cx="174.9" cy="957.3" r="5.7"/>
<circle cx="183.5" cy="955.7" r="5.7"/>
<circle cx="185.6" cy="964.3" r="5.7"/>
<circle cx="202.3" cy="962.7" r="5.7"/>
<circle cx="202.3" cy="968.1" r="5.7"/>
<circle cx="217.3" cy="971.8" r="5.7"/>
<circle cx="226.5" cy="968.1" r="5.7"/>
<circle cx="125.5" cy="981.0" r="5.7"/>
<circle cx="134.1" cy="984.2" r="5.7"/>
<circle cx="146.4" cy="981.0" r="5.7"/>
<circle cx="122.2" cy="988.5" r="5.7"/>
<circle cx="179.7" cy="977.7" r="5.7"/>
<circle cx="184.6" cy="977.7" r="5.7"/>
<circle cx="222.7" cy="982.0" r="5.7"/>
<circle cx="197.5" cy="985.3" r="5.7"/>
<circle cx="203.9" cy="990.1" r="5.7"/>
<circle cx="212.5" cy="995.5" r="5.7"/>
<circle cx="216.8" cy="996.5" r="5.7"/>
<circle cx="229.7" cy="993.9" r="5.7"/>
<circle cx="225.4" cy="1000.3" r="5.7"/>
<circle cx="153.9" cy="994.9" r="5.7"/>
<circle cx="152.3" cy="997.1" r="5.7"/>
<circle cx="176.0" cy="992.2" r="5.7"/>
<circle cx="180.3" cy="994.9" r="5.7"/>
<circle cx="121.7" cy="998.7" r="5.7"/>
<circle cx="121.7" cy="1008.4" r="5.7"/>
<circle cx="149.6" cy="1008.4" r="5.7"/>
<circle cx="163.1" cy="1006.8" r="5.7"/>
<circle cx="165.2" cy="1010.0" r="5.7"/>
<circle cx="170.6" cy="1011.1" r="5.7"/>
<circle cx="172.7" cy="1013.2" r="5.7"/>
<circle cx="202.8" cy="1006.8" r="5.7"/>
<circle cx="210.4" cy="1011.1" r="5.7"/>
<circle cx="217.9" cy="1006.8" r="5.7"/>
<circle cx="245.8" cy="1005.7" r="5.7"/>
<circle cx="218.9" cy="1017.5" r="5.7"/>
<circle cx="120.1" cy="1020.7" r="5.7"/>
<circle cx="121.7" cy="1028.8" r="5.7"/>
<circle cx="126.5" cy="1033.1" r="5.7"/>
<circle cx="130.8" cy="1041.2" r="5.7"/>
<circle cx="132.4" cy="1042.2" r="5.7"/>
<circle cx="138.9" cy="1029.3" r="5.7"/>
<circle cx="149.6" cy="1027.2" r="5.7"/>
<circle cx="153.9" cy="1034.7" r="5.7"/>
<circle cx="145.9" cy="1041.7" r="5.7"/>
<circle cx="154.5" cy="1044.4" r="5.7"/>
<circle cx="156.6" cy="1045.5" r="5.7"/>
<circle cx="148.0" cy="1051.4" r="5.7"/>
<circle cx="151.8" cy="1059.4" r="5.7"/>
<circle cx="150.7" cy="1063.7" r="5.7"/>
<circle cx="150.2" cy="1064.8" r="5.7"/>
<circle cx="169.0" cy="1032.6" r="5.7"/>
<circle cx="171.7" cy="1046.5" r="5.7"/>
<circle cx="165.2" cy="1049.8" r="5.7"/>
<circle cx="169.0" cy="1056.2" r="5.7"/>
<circle cx="171.1" cy="1064.8" r="5.7"/>
<circle cx="181.9" cy="1051.9" r="5.7"/>
<circle cx="198.5" cy="1021.3" r="5.7"/>
<circle cx="207.1" cy="1020.7" r="5.7"/>
<circle cx="215.2" cy="1026.1" r="5.7"/>
<circle cx="215.2" cy="1032.6" r="5.7"/>
<circle cx="228.6" cy="1029.9" r="5.7"/>
<circle cx="234.0" cy="1028.8" r="5.7"/>
<circle cx="239.4" cy="1029.3" r="5.7"/>
<circle cx="239.4" cy="1031.5" r="5.7"/>
<circle cx="244.2" cy="1037.9" r="5.7"/>
<circle cx="198.5" cy="1043.3" r="5.7"/>
<circle cx="195.8" cy="1049.8" r="5.7"/>
<circle cx="200.7" cy="1050.8" r="5.7"/>
<circle cx="213.6" cy="1049.8" r="5.7"/>
<circle cx="238.8" cy="1054.6" r="5.7"/>
<circle cx="237.2" cy="1059.4" r="5.7"/>
<circle cx="118.5" cy="1068.6" r="5.7"/>
<circle cx="130.8" cy="1078.8" r="5.7"/>
<circle cx="239.4" cy="1078.8" r="5.7"/>
<circle cx="246.4" cy="1074.5" r="5.7"/>
<circle cx="218.4" cy="1103.0" r="5.7"/>
<circle cx="188.3" cy="1111.5" r="5.7"/>
<circle cx="120.1" cy="1118.5" r="5.7"/>
<circle cx="144.8" cy="1146.1" r="5.7"/>
<circle cx="163.1" cy="1138.6" r="5.7"/>
<circle cx="269.0" cy="1125.5" r="5.7"/>
<circle cx="329.0" cy="1142.2" r="5.7"/>
<circle cx="340.8" cy="1158.8" r="5.7"/>
<circle cx="312.5" cy="825.7" r="5.7"/>
<circle cx="306.0" cy="846.6" r="5.7"/>
<circle cx="304.1" cy="858.4" r="5.7"/>
<circle cx="312.7" cy="857.4" r="5.7"/>
<circle cx="334.0" cy="862.2" r="5.7"/>
<circle cx="343.3" cy="866.8" r="5.7"/>
<circle cx="389.5" cy="859.0" r="5.7"/>
<circle cx="389.5" cy="863.8" r="5.7"/>
<circle cx="389.5" cy="881.0" r="5.7"/>
<circle cx="389.5" cy="890.1" r="5.7"/>
<circle cx="401.4" cy="877.8" r="5.7"/>
<circle cx="263.3" cy="910.0" r="5.7"/>
<circle cx="263.3" cy="914.3" r="5.7"/>
<circle cx="253.6" cy="920.8" r="5.7"/>
<circle cx="259.5" cy="932.1" r="5.7"/>
<circle cx="287.4" cy="931.5" r="5.7"/>
<circle cx="299.3" cy="934.8" r="5.7"/>
<circle cx="311.6" cy="929.4" r="5.7"/>
<circle cx="312.2" cy="933.1" r="5.7"/>
<circle cx="342.8" cy="908.4" r="5.7"/>
<circle cx="363.2" cy="902.5" r="5.7"/>
<circle cx="342.8" cy="920.8" r="5.7"/>
<circle cx="352.5" cy="921.9" r="5.7"/>
<circle cx="375.6" cy="920.8" r="5.7"/>
<circle cx="389.5" cy="935.8" r="5.7"/>
<circle cx="400.8" cy="933.1" r="5.7"/>
<circle cx="327.2" cy="945.5" r="5.7"/>
<circle cx="327.2" cy="948.2" r="5.7"/>
<circle cx="353.0" cy="938.0" r="5.7"/>
<circle cx="343.3" cy="945.5" r="5.7"/>
<circle cx="303.6" cy="950.9" r="5.7"/>
<circle cx="303.6" cy="954.6" r="5.7"/>
<circle cx="292.8" cy="959.5" r="5.7"/>
<circle cx="286.9" cy="968.1" r="5.7"/>
<circle cx="295.5" cy="964.8" r="5.7"/>
<circle cx="305.2" cy="963.8" r="5.7"/>
<circle cx="303.0" cy="971.8" r="5.7"/>
<circle cx="313.8" cy="971.3" r="5.7"/>
<circle cx="342.8" cy="957.3" r="5.7"/>
<circle cx="342.8" cy="968.1" r="5.7"/>
<circle cx="256.8" cy="968.1" r="5.7"/>
<circle cx="291.2" cy="976.7" r="5.7"/>
<circle cx="291.2" cy="982.0" r="5.7"/>
<circle cx="293.4" cy="985.3" r="5.7"/>
<circle cx="312.7" cy="980.4" r="5.7"/>
<circle cx="318.1" cy="979.9" r="5.7"/>
<circle cx="319.1" cy="982.0" r="5.7"/>
<circle cx="317.0" cy="988.5" r="5.7"/>
<circle cx="292.3" cy="992.8" r="5.7"/>
<circle cx="293.9" cy="996.5" r="5.7"/>
<circle cx="342.8" cy="984.7" r="5.7"/>
<circle cx="342.8" cy="987.4" r="5.7"/>
<circle cx="342.8" cy="999.2" r="5.7"/>
<circle cx="342.8" cy="1002.5" r="5.7"/>
<circle cx="342.8" cy="1004.6" r="5.7"/>
<circle cx="272.9" cy="988.0" r="5.7"/>
<circle cx="255.7" cy="993.3" r="5.7"/>
<circle cx="255.7" cy="1004.1" r="5.7"/>
<circle cx="319.1" cy="1001.4" r="5.7"/>
<circle cx="335.3" cy="1002.5" r="5.7"/>
<circle cx="272.9" cy="1012.1" r="5.7"/>
<circle cx="255.2" cy="1012.1" r="5.7"/>
<circle cx="292.8" cy="1018.6" r="5.7"/>
<circle cx="292.8" cy="1023.4" r="5.7"/>
<circle cx="303.0" cy="1021.8" r="5.7"/>
<circle cx="303.6" cy="1026.1" r="5.7"/>
<circle cx="312.7" cy="1024.0" r="5.7"/>
<circle cx="280.5" cy="1028.8" r="5.7"/>
<circle cx="347.6" cy="1017.0" r="5.7"/>
<circle cx="336.3" cy="1026.7" r="5.7"/>
<circle cx="312.7" cy="1041.2" r="5.7"/>
<circle cx="342.2" cy="1041.2" r="5.7"/>
<circle cx="349.2" cy="1045.5" r="5.7"/>
<circle cx="256.8" cy="1051.4" r="5.7"/>
<circle cx="264.9" cy="1061.6" r="5.7"/>
<circle cx="301.4" cy="1060.0" r="5.7"/>
<circle cx="297.7" cy="1070.2" r="5.7"/>
<circle cx="348.2" cy="1113.2" r="5.7"/>
<circle cx="507.2" cy="746.0" r="5.7"/>
<circle cx="462.1" cy="776.8" r="5.7"/>
<circle cx="556.4" cy="727.7" r="5.7"/>
<circle cx="556.4" cy="768.6" r="5.7"/>
<circle cx="495.6" cy="829.8" r="5.7"/>
<circle cx="407.5" cy="844.3" r="5.7"/>
<circle cx="406.4" cy="920.6" r="5.7"/>
<circle cx="462.0" cy="835.2" r="5.7"/>
<circle cx="462.0" cy="844.3" r="5.7"/>
<circle cx="462.0" cy="851.3" r="5.7"/>
<circle cx="462.0" cy="862.1" r="5.7"/>
<circle cx="462.0" cy="865.8" r="5.7"/>
<circle cx="462.0" cy="869.1" r="5.7"/>
<circle cx="462.0" cy="874.4" r="5.7"/>
<circle cx="461.8" cy="879.1" r="5.7"/>
<circle cx="461.9" cy="882.0" r="5.7"/>
<circle cx="461.6" cy="883.4" r="5.7"/>
<circle cx="462.3" cy="886.1" r="5.7"/>
<circle cx="461.8" cy="887.9" r="5.7"/>
<circle cx="462.0" cy="889.5" r="5.7"/>
<circle cx="462.2" cy="892.5" r="5.7"/>
<circle cx="461.9" cy="894.9" r="5.7"/>
<circle cx="462.1" cy="897.6" r="5.7"/>
<circle cx="462.4" cy="899.9" r="5.7"/>
<circle cx="462.3" cy="902.3" r="5.7"/>
<circle cx="462.2" cy="902.9" r="5.7"/>
<circle cx="462.3" cy="906.0" r="5.7"/>
<circle cx="461.6" cy="907.9" r="5.7"/>
<circle cx="462.3" cy="910.0" r="5.7"/>
<circle cx="462.2" cy="911.9" r="5.7"/>
<circle cx="461.7" cy="914.8" r="5.7"/>
<circle cx="461.9" cy="917.2" r="5.7"/>
<circle cx="462.4" cy="919.1" r="5.7"/>
<circle cx="462.0" cy="922.0" r="5.7"/>
<circle cx="462.2" cy="923.9" r="5.7"/>
<circle cx="461.6" cy="927.0" r="5.7"/>
<circle cx="462.2" cy="928.8" r="5.7"/>
<circle cx="462.0" cy="931.5" r="5.7"/>
<circle cx="461.6" cy="932.3" r="5.7"/>
<circle cx="461.8" cy="935.9" r="5.7"/>
<circle cx="462.1" cy="937.0" r="5.7"/>
<circle cx="462.1" cy="940.0" r="5.7"/>
<circle cx="462.0" cy="936.8" r="5.7"/>
<circle cx="452.7" cy="927.1" r="5.7"/>
<circle cx="475.8" cy="856.7" r="5.7"/>
<circle cx="497.2" cy="856.2" r="5.7"/>
<circle cx="508.5" cy="844.9" r="5.7"/>
<circle cx="508.5" cy="846.5" r="5.7"/>
<circle cx="497.8" cy="869.6" r="5.7"/>
<circle cx="507.5" cy="868.0" r="5.7"/>
<circle cx="507.5" cy="872.3" r="5.7"/>
<circle cx="519.8" cy="874.4" r="5.7"/>
<circle cx="508.0" cy="891.1" r="5.7"/>
<circle cx="497.8" cy="895.4" r="5.7"/>
<circle cx="483.8" cy="911.5" r="5.7"/>
<circle cx="497.2" cy="911.0" r="5.7"/>
<circle cx="502.1" cy="909.9" r="5.7"/>
<circle cx="507.5" cy="912.6" r="5.7"/>
<circle cx="516.1" cy="911.0" r="5.7"/>
<circle cx="493.5" cy="921.7" r="5.7"/>
<circle cx="507.5" cy="929.8" r="5.7"/>
<circle cx="547.8" cy="875.5" r="5.7"/>
<circle cx="556.4" cy="832.0" r="5.7"/>
<circle cx="556.4" cy="841.1" r="5.7"/>
<circle cx="556.4" cy="853.5" r="5.7"/>
<circle cx="556.4" cy="856.2" r="5.7"/>
<circle cx="556.4" cy="868.5" r="5.7"/>
<circle cx="555.8" cy="884.5" r="5.7"/>
<circle cx="556.5" cy="887.1" r="5.7"/>
<circle cx="556.0" cy="888.6" r="5.7"/>
<circle cx="557.1" cy="891.1" r="5.7"/>
<circle cx="556.4" cy="894.9" r="5.7"/>
<circle cx="555.7" cy="896.5" r="5.7"/>
<circle cx="555.8" cy="900.5" r="5.7"/>
<circle cx="556.7" cy="902.2" r="5.7"/>
<circle cx="555.9" cy="905.6" r="5.7"/>
<circle cx="556.8" cy="907.1" r="5.7"/>
<circle cx="556.1" cy="910.1" r="5.7"/>
<circle cx="555.6" cy="912.8" r="5.7"/>
<circle cx="555.9" cy="915.1" r="5.7"/>
<circle cx="555.7" cy="917.4" r="5.7"/>
<circle cx="556.5" cy="920.5" r="5.7"/>
<circle cx="556.8" cy="922.3" r="5.7"/>
<circle cx="556.1" cy="924.8" r="5.7"/>
<circle cx="555.6" cy="928.2" r="5.7"/>
<circle cx="555.9" cy="930.9" r="5.7"/>
<circle cx="556.7" cy="934.2" r="5.7"/>
<circle cx="556.6" cy="936.2" r="5.7"/>
<circle cx="555.8" cy="938.4" r="5.7"/>
<circle cx="556.8" cy="940.7" r="5.7"/>
<circle cx="556.8" cy="943.3" r="5.7"/>
<circle cx="550.4" cy="913.7" r="5.7"/>
<circle cx="462.0" cy="946.4" r="5.7"/>
<circle cx="462.0" cy="956.1" r="5.7"/>
<circle cx="462.0" cy="958.3" r="5.7"/>
<circle cx="462.0" cy="962.6" r="5.7"/>
<circle cx="462.0" cy="972.2" r="5.7"/>
<circle cx="462.0" cy="980.8" r="5.7"/>
<circle cx="462.0" cy="984.1" r="5.7"/>
<circle cx="462.0" cy="986.2" r="5.7"/>
<circle cx="462.0" cy="989.4" r="5.7"/>
<circle cx="462.0" cy="1009.8" r="5.7"/>
<circle cx="483.8" cy="960.4" r="5.7"/>
<circle cx="487.0" cy="960.4" r="5.7"/>
<circle cx="490.3" cy="961.5" r="5.7"/>
<circle cx="491.3" cy="951.8" r="5.7"/>
<circle cx="497.8" cy="947.5" r="5.7"/>
<circle cx="497.8" cy="950.7" r="5.7"/>
<circle cx="516.1" cy="946.4" r="5.7"/>
<circle cx="516.6" cy="949.1" r="5.7"/>
<circle cx="531.1" cy="947.5" r="5.7"/>
<circle cx="546.7" cy="944.8" r="5.7"/>
<circle cx="516.6" cy="961.0" r="5.7"/>
<circle cx="499.4" cy="970.1" r="5.7"/>
<circle cx="508.0" cy="971.7" r="5.7"/>
<circle cx="519.8" cy="972.8" r="5.7"/>
<circle cx="519.8" cy="977.1" r="5.7"/>
<circle cx="493.0" cy="979.2" r="5.7"/>
<circle cx="496.7" cy="980.3" r="5.7"/>
<circle cx="495.6" cy="982.4" r="5.7"/>
<circle cx="507.5" cy="985.1" r="5.7"/>
<circle cx="488.7" cy="995.9" r="5.7"/>
<circle cx="487.6" cy="999.1" r="5.7"/>
<circle cx="496.2" cy="1003.4" r="5.7"/>
<circle cx="495.6" cy="1006.1" r="5.7"/>
<circle cx="516.6" cy="1002.3" r="5.7"/>
<circle cx="542.9" cy="999.6" r="5.7"/>
<circle cx="484.4" cy="1014.1" r="5.7"/>
<circle cx="494.0" cy="1012.0" r="5.7"/>
<circle cx="504.8" cy="1022.2" r="5.7"/>
<circle cx="505.8" cy="1021.1" r="5.7"/>
<circle cx="516.6" cy="1017.4" r="5.7"/>
<circle cx="516.6" cy="1020.6" r="5.7"/>
<circle cx="486.0" cy="1026.0" r="5.7"/>
<circle cx="486.0" cy="1034.6" r="5.7"/>
<circle cx="504.8" cy="1039.9" r="5.7"/>
<circle cx="554.2" cy="1030.3" r="5.7"/>
<circle cx="556.4" cy="1052.8" r="5.7"/>
<circle cx="556.5" cy="946.4" r="5.7"/>
<circle cx="555.8" cy="948.2" r="5.7"/>
<circle cx="556.1" cy="950.2" r="5.7"/>
<circle cx="556.9" cy="954.2" r="5.7"/>
<circle cx="555.7" cy="955.9" r="5.7"/>
<circle cx="556.5" cy="957.7" r="5.7"/>
<circle cx="555.9" cy="960.8" r="5.7"/>
<circle cx="556.8" cy="962.3" r="5.7"/>
<circle cx="556.8" cy="966.1" r="5.7"/>
<circle cx="555.6" cy="967.8" r="5.7"/>
<circle cx="557.1" cy="969.0" r="5.7"/>
<circle cx="557.0" cy="971.7" r="5.7"/>
<circle cx="557.0" cy="974.0" r="5.7"/>
<circle cx="556.1" cy="976.4" r="5.7"/>
<circle cx="556.2" cy="979.5" r="5.7"/>
<circle cx="557.0" cy="982.2" r="5.7"/>
<circle cx="555.7" cy="983.0" r="5.7"/>
<circle cx="556.7" cy="985.4" r="5.7"/>
<circle cx="556.4" cy="991.6" r="5.7"/>
<circle cx="556.4" cy="994.8" r="5.7"/>
<circle cx="556.7" cy="1003.9" r="5.7"/>
<circle cx="556.1" cy="1006.7" r="5.7"/>
<circle cx="556.7" cy="1009.2" r="5.7"/>
<circle cx="555.7" cy="1010.3" r="5.7"/>
<circle cx="556.5" cy="1013.0" r="5.7"/>
<circle cx="479.5" cy="1057.0" r="5.7"/>
<circle cx="486.0" cy="1056.4" r="5.7"/>
<circle cx="488.1" cy="1057.0" r="5.7"/>
<circle cx="490.3" cy="1057.5" r="5.7"/>
<circle cx="494.6" cy="1057.0" r="5.7"/>
<circle cx="475.8" cy="1063.4" r="5.7"/>
<circle cx="488.1" cy="1062.9" r="5.7"/>
<circle cx="493.5" cy="1075.8" r="5.7"/>
<circle cx="497.2" cy="1077.4" r="5.7"/>
<circle cx="497.2" cy="1077.7" r="5.7"/>
<circle cx="475.8" cy="1080.1" r="5.7"/>
<circle cx="571.7" cy="769.1" r="5.7"/>
<circle cx="697.4" cy="849.2" r="5.7"/>
<circle cx="605.5" cy="863.1" r="5.7"/>
<circle cx="605.5" cy="869.1" r="5.7"/>
<circle cx="571.7" cy="875.5" r="5.7"/>
<circle cx="605.5" cy="886.3" r="5.7"/>
<circle cx="617.3" cy="918.0" r="5.7"/>
<circle cx="699.0" cy="916.3" r="5.7"/>
<circle cx="571.7" cy="931.4" r="5.7"/>
<circle cx="571.7" cy="934.6" r="5.7"/>
<circle cx="605.5" cy="937.8" r="5.7"/>
<circle cx="571.7" cy="950.2" r="5.7"/>
<circle cx="631.8" cy="950.7" r="5.7"/>
<circle cx="640.4" cy="969.6" r="5.7"/>
<circle cx="690.9" cy="965.8" r="5.7"/>
<circle cx="571.7" cy="974.4" r="5.7"/>
<circle cx="584.0" cy="978.7" r="5.7"/>
<circle cx="571.7" cy="986.7" r="5.7"/>
<circle cx="565.7" cy="979.8" r="5.7"/>
<circle cx="571.7" cy="1007.2" r="5.7"/>
<circle cx="571.7" cy="1020.1" r="5.7"/>
<circle cx="121.3" cy="967.7" r="5.7"/>
<circle cx="126.3" cy="979.2" r="5.7"/>
<circle cx="215.3" cy="971.0" r="5.7"/>
<circle cx="155.9" cy="1043.5" r="5.7"/>
<circle cx="149.3" cy="1027.1" r="5.7"/>
<circle cx="151.0" cy="1060.0" r="5.7"/>
<circle cx="160.9" cy="1007.3" r="5.7"/>
<circle cx="210.3" cy="1010.6" r="5.7"/>
<circle cx="215.3" cy="1025.4" r="5.7"/>
<circle cx="238.4" cy="1028.7" r="5.7"/>
<circle cx="343.9" cy="999.0" r="5.7"/>
<circle cx="317.5" cy="979.2" r="5.7"/>
</g>
<g fill="#000" fill-opacity="0.5" stroke="#000" stroke-opacity="0.5" stroke-width="1.8">
<circle cx="907.4" cy="779.8" r="5.7"/>
<circle cx="907.4" cy="788.3" r="5.7"/>
<circle cx="907.0" cy="827.4" r="5.7"/>
<circle cx="907.0" cy="866.4" r="5.7"/>
<circle cx="877.6" cy="890.0" r="5.7"/>
<circle cx="920.9" cy="902.2" r="5.7"/>
<circle cx="877.6" cy="987.0" r="5.7"/>
<circle cx="1242.2" cy="727.9" r="5.7"/>
<circle cx="1242.2" cy="732.1" r="5.7"/>
<circle cx="1242.2" cy="744.8" r="5.7"/>
<circle cx="1242.2" cy="749.1" r="5.7"/>
<circle cx="1242.2" cy="767.5" r="5.7"/>
<circle cx="1242.2" cy="775.0" r="5.7"/>
<circle cx="1242.2" cy="775.9" r="5.7"/>
<circle cx="1242.2" cy="782.5" r="5.7"/>
<circle cx="1242.2" cy="784.4" r="5.7"/>
<circle cx="1242.2" cy="785.4" r="5.7"/>
<circle cx="1242.2" cy="796.2" r="5.7"/>
<circle cx="1242.2" cy="808.9" r="5.7"/>
<circle cx="1242.2" cy="810.8" r="5.7"/>
<circle cx="1242.2" cy="823.0" r="5.7"/>
<circle cx="1242.2" cy="824.0" r="5.7"/>
<circle cx="1184.0" cy="832.1" r="5.7"/>
<circle cx="1242.2" cy="837.2" r="5.7"/>
<circle cx="1242.2" cy="839.1" r="5.7"/>
<circle cx="1242.2" cy="841.0" r="5.7"/>
<circle cx="1242.2" cy="846.7" r="5.7"/>
<circle cx="1242.2" cy="855.1" r="5.7"/>
<circle cx="1242.2" cy="857.5" r="5.7"/>
<circle cx="1242.2" cy="858.9" r="5.7"/>
<circle cx="1242.2" cy="868.8" r="5.7"/>
<circle cx="1242.2" cy="882.9" r="5.7"/>
<circle cx="1242.2" cy="890.9" r="5.7"/>
<circle cx="1242.2" cy="892.8" r="5.7"/>
<circle cx="1242.2" cy="899.4" r="5.7"/>
<circle cx="1242.2" cy="902.2" r="5.7"/>
<circle cx="1242.2" cy="905.1" r="5.7"/>
<circle cx="1242.2" cy="906.9" r="5.7"/>
<circle cx="1242.2" cy="913.1" r="5.7"/>
<circle cx="1242.2" cy="923.0" r="5.7"/>
<circle cx="1242.2" cy="924.8" r="5.7"/>
<circle cx="1242.2" cy="926.7" r="5.7"/>
<circle cx="1242.2" cy="936.1" r="5.7"/>
<circle cx="1242.2" cy="939.9" r="5.7"/>
<circle cx="1242.2" cy="942.7" r="5.7"/>
<circle cx="1258.0" cy="853.3" r="5.7"/>
<circle cx="1261.7" cy="853.3" r="5.7"/>
<circle cx="1270.2" cy="845.3" r="5.7"/>
<circle cx="1272.6" cy="858.9" r="5.7"/>
<circle cx="1268.3" cy="884.8" r="5.7"/>
<circle cx="1273.0" cy="898.5" r="5.7"/>
<circle cx="1242.4" cy="948.5" r="5.7"/>
<circle cx="1242.4" cy="952.7" r="5.7"/>
<circle cx="1242.4" cy="957.0" r="5.7"/>
<circle cx="1242.4" cy="959.8" r="5.7"/>
<circle cx="1242.4" cy="973.9" r="5.7"/>
<circle cx="1242.4" cy="976.7" r="5.7"/>
<circle cx="1242.4" cy="986.6" r="5.7"/>
<circle cx="1242.4" cy="988.7" r="5.7"/>
<circle cx="1242.2" cy="994.3" r="5.7"/>
<circle cx="1242.4" cy="998.8" r="5.7"/>
<circle cx="1242.6" cy="999.8" r="5.7"/>
<circle cx="1242.2" cy="1003.0" r="5.7"/>
<circle cx="1242.8" cy="1005.9" r="5.7"/>
<circle cx="1242.8" cy="1009.2" r="5.7"/>
<circle cx="1242.1" cy="1011.4" r="5.7"/>
<circle cx="1242.4" cy="1015.0" r="5.7"/>
<circle cx="1242.4" cy="1023.4" r="5.7"/>
<circle cx="1242.4" cy="1027.6" r="5.7"/>
<circle cx="1242.4" cy="1031.8" r="5.7"/>
<circle cx="1242.4" cy="1040.3" r="5.7"/>
<circle cx="1186.8" cy="1036.8" r="5.7"/>
<circle cx="1186.8" cy="1091.9" r="5.7"/>
<circle cx="1297.0" cy="758.2" r="5.7"/>
<circle cx="1285.1" cy="771.4" r="5.7"/>
<circle cx="1284.4" cy="777.7" r="5.7"/>
<circle cx="1297.0" cy="773.3" r="5.7"/>
<circle cx="1297.0" cy="777.7" r="5.7"/>
<circle cx="1297.0" cy="781.4" r="5.7"/>
<circle cx="1297.0" cy="801.5" r="5.7"/>
<circle cx="1297.0" cy="806.6" r="5.7"/>
<circle cx="1303.3" cy="809.1" r="5.7"/>
<circle cx="1303.3" cy="809.5" r="5.7"/>
<circle cx="1297.0" cy="816.0" r="5.7"/>
<circle cx="1342.8" cy="758.8" r="5.7"/>
<circle cx="1362.3" cy="856.2" r="5.7"/>
<circle cx="1285.1" cy="856.2" r="5.7"/>
<circle cx="1295.1" cy="858.7" r="5.7"/>
<circle cx="1303.3" cy="851.8" r="5.7"/>
<circle cx="1293.9" cy="860.6" r="5.7"/>
<circle cx="1303.9" cy="868.1" r="5.7"/>
<circle cx="1296.4" cy="873.1" r="5.7"/>
<circle cx="1283.2" cy="870.0" r="5.7"/>
<circle cx="1283.8" cy="878.1" r="5.7"/>
<circle cx="1280.0" cy="885.7" r="5.7"/>
<circle cx="1292.0" cy="894.5" r="5.7"/>
<circle cx="1297.0" cy="897.6" r="5.7"/>
<circle cx="1280.0" cy="902.1" r="5.7"/>
<circle cx="1296.8" cy="917.1" r="5.7"/>
<circle cx="1295.9" cy="924.1" r="5.7"/>
<circle cx="1304.7" cy="926.8" r="5.7"/>
<circle cx="1296.8" cy="952.4" r="5.7"/>
<circle cx="1296.8" cy="961.2" r="5.7"/>
<circle cx="1295.9" cy="970.1" r="5.7"/>
<circle cx="1303.0" cy="971.8" r="5.7"/>
<circle cx="1303.0" cy="984.2" r="5.7"/>
<circle cx="1303.0" cy="984.7" r="5.7"/>
<circle cx="1296.8" cy="1021.3" r="5.7"/>
<circle cx="1303.0" cy="1021.3" r="5.7"/>
<circle cx="1303.0" cy="1021.8" r="5.7"/>
<circle cx="1304.7" cy="1035.4" r="5.7"/>
<circle cx="1296.4" cy="1056.6" r="5.7"/>
<circle cx="1296.4" cy="1071.6" r="5.7"/>
<circle cx="1322.4" cy="1101.6" r="5.7"/>
<circle cx="1303.9" cy="1110.5" r="5.7"/>
<circle cx="1361.3" cy="910.0" r="5.7"/>
<circle cx="1361.3" cy="935.6" r="5.7"/>
<circle cx="1393.9" cy="739.3" r="5.7"/>
<circle cx="1370.8" cy="764.7" r="5.7"/>
<circle cx="1391.6" cy="760.0" r="5.7"/>
<circle cx="1391.6" cy="771.8" r="5.7"/>
<circle cx="1458.9" cy="761.4" r="5.7"/>
<circle cx="1392.0" cy="803.8" r="5.7"/>
<circle cx="1392.0" cy="804.3" r="5.7"/>
<circle cx="1391.6" cy="815.1" r="5.7"/>
<circle cx="1391.6" cy="815.6" r="5.7"/>
<circle cx="1391.6" cy="816.1" r="5.7"/>
<circle cx="1411.3" cy="800.1" r="5.7"/>
<circle cx="1410.9" cy="810.4" r="5.7"/>
<circle cx="1444.8" cy="812.3" r="5.7"/>
<circle cx="1444.8" cy="812.7" r="5.7"/>
<circle cx="1444.8" cy="813.1" r="5.7"/>
<circle cx="1459.4" cy="808.5" r="5.7"/>
<circle cx="1459.4" cy="812.8" r="5.7"/>
<circle cx="1390.1" cy="828.8" r="5.7"/>
<circle cx="1409.0" cy="830.7" r="5.7"/>
<circle cx="1391.1" cy="850.5" r="5.7"/>
<circle cx="1391.1" cy="859.0" r="5.7"/>
<circle cx="1391.1" cy="861.8" r="5.7"/>
<circle cx="1391.1" cy="863.3" r="5.7"/>
<circle cx="1388.4" cy="872.8" r="5.7"/>
<circle cx="1393.7" cy="875.7" r="5.7"/>
<circle cx="1390.4" cy="876.0" r="5.7"/>
<circle cx="1392.6" cy="878.3" r="5.7"/>
<circle cx="1389.4" cy="880.7" r="5.7"/>
<circle cx="1390.3" cy="882.2" r="5.7"/>
<circle cx="1395.0" cy="884.4" r="5.7"/>
<circle cx="1395.0" cy="884.9" r="5.7"/>
<circle cx="1391.9" cy="887.3" r="5.7"/>
<circle cx="1393.1" cy="890.0" r="5.7"/>
<circle cx="1387.2" cy="891.5" r="5.7"/>
<circle cx="1391.7" cy="893.1" r="5.7"/>
<circle cx="1393.5" cy="893.5" r="5.7"/>
<circle cx="1395.0" cy="896.2" r="5.7"/>
<circle cx="1390.0" cy="897.0" r="5.7"/>
<circle cx="1392.1" cy="899.6" r="5.7"/>
<circle cx="1395.0" cy="900.6" r="5.7"/>
<circle cx="1394.8" cy="903.6" r="5.7"/>
<circle cx="1393.3" cy="904.0" r="5.7"/>
<circle cx="1391.2" cy="906.0" r="5.7"/>
<circle cx="1393.0" cy="908.2" r="5.7"/>
<circle cx="1388.0" cy="910.3" r="5.7"/>
<circle cx="1389.1" cy="910.6" r="5.7"/>
<circle cx="1393.7" cy="913.2" r="5.7"/>
<circle cx="1388.6" cy="915.1" r="5.7"/>
<circle cx="1395.1" cy="916.6" r="5.7"/>
<circle cx="1391.3" cy="918.3" r="5.7"/>
<circle cx="1393.9" cy="920.4" r="5.7"/>
<circle cx="1390.3" cy="922.5" r="5.7"/>
<circle cx="1391.9" cy="923.1" r="5.7"/>
<circle cx="1394.1" cy="925.4" r="5.7"/>
<circle cx="1394.4" cy="926.5" r="5.7"/>
<circle cx="1390.3" cy="927.7" r="5.7"/>
<circle cx="1392.0" cy="930.3" r="5.7"/>
<circle cx="1393.9" cy="932.0" r="5.7"/>
<circle cx="1391.8" cy="932.9" r="5.7"/>
<circle cx="1390.8" cy="934.9" r="5.7"/>
<circle cx="1387.4" cy="937.6" r="5.7"/>
<circle cx="1387.9" cy="937.9" r="5.7"/>
<circle cx="1388.0" cy="941.3" r="5.7"/>
<circle cx="1390.5" cy="941.2" r="5.7"/>
<circle cx="1389.2" cy="943.1" r="5.7"/>
<circle cx="1393.9" cy="946.3" r="5.7"/>
<circle cx="1392.9" cy="947.3" r="5.7"/>
<circle cx="1392.5" cy="948.5" r="5.7"/>
<circle cx="1391.6" cy="951.7" r="5.7"/>
<circle cx="1389.7" cy="951.4" r="5.7"/>
<circle cx="1390.8" cy="954.7" r="5.7"/>
<circle cx="1410.4" cy="843.9" r="5.7"/>
<circle cx="1410.4" cy="854.3" r="5.7"/>
<circle cx="1410.4" cy="862.3" r="5.7"/>
<circle cx="1410.4" cy="862.8" r="5.7"/>
<circle cx="1410.4" cy="871.3" r="5.7"/>
<circle cx="1410.4" cy="871.7" r="5.7"/>
<circle cx="1410.4" cy="884.0" r="5.7"/>
<circle cx="1410.4" cy="887.7" r="5.7"/>
<circle cx="1410.4" cy="893.4" r="5.7"/>
<circle cx="1410.4" cy="893.9" r="5.7"/>
<circle cx="1410.4" cy="900.9" r="5.7"/>
<circle cx="1410.4" cy="903.3" r="5.7"/>
<circle cx="1410.4" cy="905.6" r="5.7"/>
<circle cx="1410.4" cy="916.9" r="5.7"/>
<circle cx="1410.4" cy="924.5" r="5.7"/>
<circle cx="1410.4" cy="925.9" r="5.7"/>
<circle cx="1410.4" cy="927.3" r="5.7"/>
<circle cx="1410.4" cy="928.2" r="5.7"/>
<circle cx="1410.4" cy="938.6" r="5.7"/>
<circle cx="1410.4" cy="940.0" r="5.7"/>
<circle cx="1410.4" cy="941.4" r="5.7"/>
<circle cx="1410.4" cy="951.8" r="5.7"/>
<circle cx="1433.5" cy="847.7" r="5.7"/>
<circle cx="1433.5" cy="863.7" r="5.7"/>
<circle cx="1433.5" cy="872.2" r="5.7"/>
<circle cx="1433.5" cy="895.3" r="5.7"/>
<circle cx="1433.5" cy="897.6" r="5.7"/>
<circle cx="1433.5" cy="915.1" r="5.7"/>
<circle cx="1429.7" cy="937.7" r="5.7"/>
<circle cx="1433.5" cy="941.4" r="5.7"/>
<circle cx="1427.8" cy="949.9" r="5.7"/>
<circle cx="1433.5" cy="950.9" r="5.7"/>
<circle cx="1444.8" cy="876.0" r="5.7"/>
<circle cx="1444.8" cy="876.4" r="5.7"/>
<circle cx="1444.8" cy="902.8" r="5.7"/>
<circle cx="1444.8" cy="906.6" r="5.7"/>
<circle cx="1444.8" cy="912.2" r="5.7"/>
<circle cx="1444.8" cy="912.7" r="5.7"/>
<circle cx="1444.8" cy="919.8" r="5.7"/>
<circle cx="1458.4" cy="884.0" r="5.7"/>
<circle cx="1458.4" cy="916.5" r="5.7"/>
<circle cx="1453.2" cy="927.8" r="5.7"/>
<circle cx="1458.4" cy="930.1" r="5.7"/>
<circle cx="1458.4" cy="939.5" r="5.7"/>
<circle cx="1458.4" cy="947.6" r="5.7"/>
<circle cx="1458.4" cy="948.0" r="5.7"/>
<circle cx="1458.4" cy="948.5" r="5.7"/>
<circle cx="1391.2" cy="950.8" r="5.7"/>
<circle cx="1385.3" cy="953.7" r="5.7"/>
<circle cx="1391.2" cy="954.9" r="5.7"/>
<circle cx="1388.1" cy="956.7" r="5.7"/>
<circle cx="1389.5" cy="958.3" r="5.7"/>
<circle cx="1392.1" cy="960.2" r="5.7"/>
<circle cx="1393.8" cy="961.7" r="5.7"/>
<circle cx="1386.2" cy="964.2" r="5.7"/>
<circle cx="1386.7" cy="965.8" r="5.7"/>
<circle cx="1387.1" cy="969.2" r="5.7"/>
<circle cx="1390.9" cy="969.5" r="5.7"/>
<circle cx="1390.0" cy="971.8" r="5.7"/>
<circle cx="1387.9" cy="974.5" r="5.7"/>
<circle cx="1395.0" cy="976.2" r="5.7"/>
<circle cx="1390.9" cy="978.8" r="5.7"/>
<circle cx="1393.6" cy="979.6" r="5.7"/>
<circle cx="1394.8" cy="981.1" r="5.7"/>
<circle cx="1391.4" cy="983.9" r="5.7"/>
<circle cx="1388.6" cy="986.0" r="5.7"/>
<circle cx="1388.3" cy="987.1" r="5.7"/>
<circle cx="1391.7" cy="990.6" r="5.7"/>
<circle cx="1393.4" cy="992.3" r="5.7"/>
<circle cx="1387.7" cy="994.0" r="5.7"/>
<circle cx="1394.2" cy="996.0" r="5.7"/>
<circle cx="1388.6" cy="997.8" r="5.7"/>
<circle cx="1388.3" cy="999.9" r="5.7"/>
<circle cx="1388.2" cy="1001.2" r="5.7"/>
<circle cx="1394.1" cy="1002.4" r="5.7"/>
<circle cx="1391.5" cy="1005.7" r="5.7"/>
<circle cx="1391.2" cy="1007.5" r="5.7"/>
<circle cx="1394.4" cy="1009.8" r="5.7"/>
<circle cx="1393.1" cy="1011.2" r="5.7"/>
<circle cx="1387.4" cy="1013.1" r="5.7"/>
<circle cx="1389.7" cy="1014.4" r="5.7"/>
<circle cx="1386.1" cy="1015.9" r="5.7"/>
<circle cx="1386.8" cy="1017.9" r="5.7"/>
<circle cx="1393.3" cy="1021.0" r="5.7"/>
<circle cx="1394.8" cy="1023.5" r="5.7"/>
<circle cx="1393.7" cy="1024.3" r="5.7"/>
<circle cx="1386.0" cy="1026.7" r="5.7"/>
<circle cx="1389.1" cy="1028.5" r="5.7"/>
<circle cx="1394.3" cy="1030.4" r="5.7"/>
<circle cx="1389.2" cy="1032.3" r="5.7"/>
<circle cx="1386.5" cy="1034.1" r="5.7"/>
<circle cx="1391.6" cy="1035.5" r="5.7"/>
<circle cx="1385.7" cy="1038.5" r="5.7"/>
<circle cx="1393.5" cy="1040.3" r="5.7"/>
<circle cx="1388.8" cy="1041.2" r="5.7"/>
<circle cx="1391.9" cy="1044.0" r="5.7"/>
<circle cx="1394.4" cy="1046.3" r="5.7"/>
<circle cx="1389.3" cy="1047.7" r="5.7"/>
<circle cx="1386.1" cy="1049.5" r="5.7"/>
<circle cx="1390.0" cy="1052.3" r="5.7"/>
<circle cx="1392.1" cy="1054.3" r="5.7"/>
<circle cx="1388.7" cy="1056.2" r="5.7"/>
<circle cx="1389.7" cy="1056.5" r="5.7"/>
<circle cx="1386.6" cy="1059.3" r="5.7"/>
<circle cx="1390.3" cy="1061.7" r="5.7"/>
<circle cx="1388.4" cy="1064.1" r="5.7"/>
<circle cx="1390.2" cy="1065.1" r="5.7"/>
<circle cx="1391.1" cy="1066.5" r="5.7"/>
<circle cx="1389.7" cy="1069.2" r="5.7"/>
<circle cx="1370.8" cy="1009.3" r="5.7"/>
<circle cx="1379.8" cy="1023.5" r="5.7"/>
<circle cx="1410.2" cy="952.1" r="5.7"/>
<circle cx="1409.9" cy="955.4" r="5.7"/>
<circle cx="1409.4" cy="960.1" r="5.7"/>
<circle cx="1410.9" cy="963.6" r="5.7"/>
<circle cx="1410.5" cy="968.3" r="5.7"/>
<circle cx="1409.8" cy="972.2" r="5.7"/>
<circle cx="1409.5" cy="976.4" r="5.7"/>
<circle cx="1410.0" cy="980.9" r="5.7"/>
<circle cx="1409.8" cy="984.5" r="5.7"/>
<circle cx="1409.5" cy="988.9" r="5.7"/>
<circle cx="1409.2" cy="992.1" r="5.7"/>
<circle cx="1410.1" cy="995.8" r="5.7"/>
<circle cx="1410.2" cy="1000.2" r="5.7"/>
<circle cx="1410.2" cy="1004.3" r="5.7"/>
<circle cx="1410.7" cy="1008.9" r="5.7"/>
<circle cx="1409.7" cy="1012.1" r="5.7"/>
<circle cx="1410.1" cy="1016.0" r="5.7"/>
<circle cx="1410.0" cy="1020.1" r="5.7"/>
<circle cx="1410.6" cy="1024.4" r="5.7"/>
<circle cx="1410.8" cy="1027.6" r="5.7"/>
<circle cx="1409.7" cy="1032.1" r="5.7"/>
<circle cx="1409.6" cy="1036.1" r="5.7"/>
<circle cx="1409.8" cy="1040.7" r="5.7"/>
<circle cx="1409.6" cy="1044.3" r="5.7"/>
<circle cx="1410.7" cy="1048.6" r="5.7"/>
<circle cx="1410.1" cy="1052.3" r="5.7"/>
<circle cx="1409.3" cy="1056.6" r="5.7"/>
<circle cx="1409.9" cy="1060.3" r="5.7"/>
<circle cx="1410.6" cy="1064.9" r="5.7"/>
<circle cx="1410.2" cy="1068.2" r="5.7"/>
<circle cx="1433.5" cy="952.8" r="5.7"/>
<circle cx="1429.7" cy="968.8" r="5.7"/>
<circle cx="1429.7" cy="970.3" r="5.7"/>
<circle cx="1429.7" cy="981.1" r="5.7"/>
<circle cx="1430.3" cy="987.4" r="5.7"/>
<circle cx="1428.7" cy="989.7" r="5.7"/>
<circle cx="1430.2" cy="993.2" r="5.7"/>
<circle cx="1429.7" cy="996.0" r="5.7"/>
<circle cx="1430.7" cy="997.7" r="5.7"/>
<circle cx="1429.0" cy="1000.9" r="5.7"/>
<circle cx="1430.1" cy="1003.4" r="5.7"/>
<circle cx="1430.4" cy="1005.4" r="5.7"/>
<circle cx="1430.4" cy="1009.4" r="5.7"/>
<circle cx="1430.7" cy="1012.6" r="5.7"/>
<circle cx="1429.1" cy="1014.2" r="5.7"/>
<circle cx="1430.0" cy="1016.6" r="5.7"/>
<circle cx="1430.3" cy="1020.8" r="5.7"/>
<circle cx="1430.0" cy="1022.8" r="5.7"/>
<circle cx="1428.7" cy="1024.5" r="5.7"/>
<circle cx="1429.9" cy="1027.7" r="5.7"/>
<circle cx="1429.4" cy="1031.5" r="5.7"/>
<circle cx="1428.8" cy="1033.1" r="5.7"/>
<circle cx="1437.2" cy="988.6" r="5.7"/>
<circle cx="1437.2" cy="1020.6" r="5.7"/>
<circle cx="1434.4" cy="1032.9" r="5.7"/>
<circle cx="1444.8" cy="1005.6" r="5.7"/>
<circle cx="1458.4" cy="958.5" r="5.7"/>
<circle cx="1458.4" cy="962.2" r="5.7"/>
<circle cx="1458.4" cy="965.1" r="5.7"/>
<circle cx="1458.4" cy="968.8" r="5.7"/>
<circle cx="1458.4" cy="972.6" r="5.7"/>
<circle cx="1458.7" cy="981.9" r="5.7"/>
<circle cx="1458.1" cy="984.0" r="5.7"/>
<circle cx="1458.1" cy="985.5" r="5.7"/>
<circle cx="1458.2" cy="987.4" r="5.7"/>
<circle cx="1458.9" cy="989.6" r="5.7"/>
<circle cx="1458.1" cy="991.8" r="5.7"/>
<circle cx="1458.2" cy="997.6" r="5.7"/>
<circle cx="1458.6" cy="999.9" r="5.7"/>
<circle cx="1458.2" cy="1002.8" r="5.7"/>
<circle cx="1458.3" cy="1004.8" r="5.7"/>
<circle cx="1458.3" cy="1007.3" r="5.7"/>
<circle cx="1458.7" cy="1009.1" r="5.7"/>
<circle cx="1458.6" cy="1012.0" r="5.7"/>
<circle cx="1458.2" cy="1014.9" r="5.7"/>
<circle cx="1458.4" cy="1021.6" r="5.7"/>
<circle cx="1458.4" cy="1025.4" r="5.7"/>
<circle cx="1458.4" cy="1029.1" r="5.7"/>
<circle cx="1458.4" cy="1032.9" r="5.7"/>
<circle cx="1458.4" cy="1040.4" r="5.7"/>
<circle cx="1458.4" cy="1045.1" r="5.7"/>
<circle cx="1458.4" cy="1048.0" r="5.7"/>
<circle cx="1458.4" cy="1059.3" r="5.7"/>
<circle cx="1458.4" cy="1065.9" r="5.7"/>
<circle cx="1391.2" cy="1065.8" r="5.7"/>
<circle cx="1385.3" cy="1068.7" r="5.7"/>
<circle cx="1391.2" cy="1069.9" r="5.7"/>
<circle cx="1388.1" cy="1071.7" r="5.7"/>
<circle cx="1389.5" cy="1073.3" r="5.7"/>
<circle cx="1392.1" cy="1075.2" r="5.7"/>
<circle cx="1393.8" cy="1076.7" r="5.7"/>
<circle cx="1386.2" cy="1079.2" r="5.7"/>
<circle cx="1386.7" cy="1080.8" r="5.7"/>
<circle cx="1387.1" cy="1084.2" r="5.7"/>
<circle cx="1390.9" cy="1084.6" r="5.7"/>
<circle cx="1390.0" cy="1086.9" r="5.7"/>
<circle cx="1387.9" cy="1089.6" r="5.7"/>
<circle cx="1395.0" cy="1091.3" r="5.7"/>
<circle cx="1390.9" cy="1093.9" r="5.7"/>
<circle cx="1393.6" cy="1094.7" r="5.7"/>
<circle cx="1394.8" cy="1096.1" r="5.7"/>
<circle cx="1391.4" cy="1099.0" r="5.7"/>
<circle cx="1388.6" cy="1101.1" r="5.7"/>
<circle cx="1388.3" cy="1102.1" r="5.7"/>
<circle cx="1391.7" cy="1105.6" r="5.7"/>
<circle cx="1393.4" cy="1107.3" r="5.7"/>
<circle cx="1387.7" cy="1109.1" r="5.7"/>
<circle cx="1394.2" cy="1111.1" r="5.7"/>
<circle cx="1388.6" cy="1112.9" r="5.7"/>
<circle cx="1388.3" cy="1115.0" r="5.7"/>
<circle cx="1388.2" cy="1116.3" r="5.7"/>
<circle cx="1394.1" cy="1117.5" r="5.7"/>
<circle cx="1391.5" cy="1120.8" r="5.7"/>
<circle cx="1391.2" cy="1122.6" r="5.7"/>
<circle cx="1394.4" cy="1124.9" r="5.7"/>
<circle cx="1393.1" cy="1126.3" r="5.7"/>
<circle cx="1387.4" cy="1128.3" r="5.7"/>
<circle cx="1389.7" cy="1129.6" r="5.7"/>
<circle cx="1383.5" cy="1134.7" r="5.7"/>
<circle cx="1383.5" cy="1145.1" r="5.7"/>
<circle cx="1391.1" cy="1138.5" r="5.7"/>
<circle cx="1391.1" cy="1144.1" r="5.7"/>
<circle cx="1391.1" cy="1146.9" r="5.7"/>
<circle cx="1387.8" cy="1158.7" r="5.7"/>
<circle cx="1410.2" cy="1066.6" r="5.7"/>
<circle cx="1409.9" cy="1069.0" r="5.7"/>
<circle cx="1409.4" cy="1072.7" r="5.7"/>
<circle cx="1410.9" cy="1075.2" r="5.7"/>
<circle cx="1410.5" cy="1078.9" r="5.7"/>
<circle cx="1409.8" cy="1081.9" r="5.7"/>
<circle cx="1409.5" cy="1085.1" r="5.7"/>
<circle cx="1410.0" cy="1088.6" r="5.7"/>
<circle cx="1409.8" cy="1091.2" r="5.7"/>
<circle cx="1409.5" cy="1094.7" r="5.7"/>
<circle cx="1409.2" cy="1096.9" r="5.7"/>
<circle cx="1410.1" cy="1099.6" r="5.7"/>
<circle cx="1410.2" cy="1103.1" r="5.7"/>
<circle cx="1410.2" cy="1106.2" r="5.7"/>
<circle cx="1410.9" cy="1110.2" r="5.7"/>
<circle cx="1408.5" cy="1119.6" r="5.7"/>
<circle cx="1409.9" cy="1132.8" r="5.7"/>
<circle cx="1402.4" cy="1082.0" r="5.7"/>
<circle cx="1429.7" cy="1081.5" r="5.7"/>
<circle cx="1433.5" cy="1077.2" r="5.7"/>
<circle cx="1444.8" cy="1078.7" r="5.7"/>
<circle cx="1429.7" cy="1105.5" r="5.7"/>
<circle cx="1458.4" cy="1067.4" r="5.7"/>
<circle cx="1458.4" cy="1067.8" r="5.7"/>
<circle cx="1458.4" cy="1086.7" r="5.7"/>
<circle cx="1458.4" cy="1089.5" r="5.7"/>
<circle cx="1458.4" cy="1092.3" r="5.7"/>
<circle cx="1458.4" cy="1095.1" r="5.7"/>
<circle cx="1458.4" cy="1113.0" r="5.7"/>
<circle cx="1410.4" cy="877.4" r="5.7"/>
<circle cx="1410.4" cy="880.2" r="5.7"/>
<circle cx="1410.4" cy="891.5" r="5.7"/>
<circle cx="1410.4" cy="896.2" r="5.7"/>
<circle cx="1410.4" cy="898.1" r="5.7"/>
<circle cx="1410.4" cy="909.4" r="5.7"/>
<circle cx="1410.4" cy="913.2" r="5.7"/>
<circle cx="1410.4" cy="919.8" r="5.7"/>
<circle cx="1410.4" cy="931.1" r="5.7"/>
<circle cx="1410.4" cy="934.8" r="5.7"/>
<circle cx="1410.4" cy="945.2" r="5.7"/>
<circle cx="1410.4" cy="948.0" r="5.7"/>
<circle cx="1390.7" cy="1023.8" r="5.7"/>
<circle cx="1389.7" cy="1029.4" r="5.7"/>
<circle cx="1392.3" cy="1034.0" r="5.7"/>
<circle cx="1389.4" cy="1041.4" r="5.7"/>
<circle cx="1387.1" cy="1046.6" r="5.7"/>
<circle cx="1391.0" cy="1053.7" r="5.7"/>
<circle cx="1393.5" cy="1058.6" r="5.7"/>
<circle cx="1387.3" cy="1065.3" r="5.7"/>
<circle cx="1391.0" cy="1070.0" r="5.7"/>
<circle cx="1388.5" cy="1077.8" r="5.7"/>
<circle cx="1393.4" cy="1083.9" r="5.7"/>
<circle cx="1389.3" cy="1088.2" r="5.7"/>
<circle cx="1388.3" cy="1094.9" r="5.7"/>
<circle cx="1386.6" cy="1100.2" r="5.7"/>
<circle cx="1386.8" cy="1106.5" r="5.7"/>
<circle cx="1388.6" cy="1112.5" r="5.7"/>
<circle cx="1390.9" cy="1119.6" r="5.7"/>
<circle cx="1391.4" cy="1125.6" r="5.7"/>
</g>
<path d="M122.80,366.22 L130.09,369.05 L137.39,371.73 L144.68,374.25 L151.98,376.63 L159.27,378.84 L166.57,380.91 L173.86,382.82 L181.16,384.58 L188.45,386.18 L195.75,387.63 L203.04,388.93 L210.34,390.07 L217.63,391.06 L224.93,391.89 L232.22,392.58 L239.52,393.10 L246.81,393.48 L254.11,393.70 L261.40,393.77 L268.70,393.68 L275.99,393.44 L283.29,393.05 L290.58,392.50 L297.88,391.80 L305.17,390.94 L312.47,389.94 L319.76,388.77 L327.06,387.46 L334.35,385.99 L341.65,384.37 L348.94,382.59 L356.24,380.66 L363.53,378.57 L370.83,376.34 L378.12,373.95 L385.42,371.40 L392.71,368.70 L400.01,365.85 L407.30,362.84 L414.60,359.69 L421.89,356.37 L429.19,352.91 L436.48,349.29 L443.78,345.51 L451.07,341.58 L458.37,337.50 L465.66,333.27 L472.96,328.88 L480.25,324.34 L487.55,319.64 L494.84,314.79 L502.14,309.79 L509.43,304.63 L516.73,299.32 L524.02,293.86 L531.32,288.24 L538.61,282.47 L545.91,276.54 L553.20,270.46 L560.50,264.23 L567.79,257.85 L575.09,251.31 L582.38,244.61 L589.68,237.77 L596.97,230.77 L604.27,223.61 L611.56,216.30 L618.86,208.84 L626.15,201.23 L633.45,193.46 L640.74,185.54 L648.04,177.46 L655.33,169.23 L662.63,160.85 L669.92,152.31 L677.22,143.62 L684.51,134.77 L691.81,125.78 L699.10,116.63" fill="none" stroke="#0000ff" stroke-width="5.9"/>
<path d="M884.00,223.04 L891.28,219.57 L898.57,216.20 L905.85,212.92 L913.14,209.73 L920.42,206.64 L927.71,203.64 L934.99,200.74 L942.28,197.93 L949.56,195.22 L956.85,192.60 L964.13,190.08 L971.42,187.65 L978.70,185.31 L985.99,183.07 L993.27,180.92 L1000.56,178.87 L1007.84,176.91 L1015.13,175.04 L1022.41,173.27 L1029.70,171.60 L1036.98,170.01 L1044.27,168.53 L1051.55,167.13 L1058.84,165.83 L1066.12,164.63 L1073.41,163.52 L1080.69,162.50 L1087.97,161.58 L1095.26,160.75 L1102.54,160.02 L1109.83,159.38 L1117.11,158.84 L1124.40,158.39 L1131.68,158.03 L1138.97,157.77 L1146.25,157.60 L1153.54,157.53 L1160.82,157.55 L1168.11,157.67 L1175.39,157.88 L1182.68,158.18 L1189.96,158.58 L1197.25,159.07 L1204.53,159.66 L1211.82,160.34 L1219.10,161.12 L1226.39,161.99 L1233.67,162.95 L1240.96,164.01 L1248.24,165.16 L1255.53,166.41 L1262.81,167.75 L1270.09,169.19 L1277.38,170.72 L1284.66,172.34 L1291.95,174.06 L1299.23,175.87 L1306.52,177.78 L1313.80,179.78 L1321.09,181.88 L1328.37,184.07 L1335.66,186.35 L1342.94,188.73 L1350.23,191.21 L1357.51,193.77 L1364.80,196.44 L1372.08,199.19 L1379.37,202.04 L1386.65,204.99 L1393.94,208.03 L1401.22,211.16 L1408.51,214.39 L1415.79,217.71 L1423.08,221.13 L1430.36,224.64 L1437.65,228.24 L1444.93,231.94 L1452.22,235.73 L1459.50,239.62" fill="none" stroke="#0000ff" stroke-width="5.9"/>
<path d="M117.4,992.7 L699,911" fill="none" stroke="#0000ff" stroke-width="5.9"/>
<line x1="94.4" y1="54.6" x2="94.4" y2="538.25" stroke="#000" stroke-width="2.7"/>
<line x1="93.05000000000001" y1="536.9" x2="727.9" y2="536.9" stroke="#000" stroke-width="2.7"/>
<line x1="121.80" y1="536.9" x2="121.80" y2="545.25" stroke="#262626" stroke-width="2.5"/>
<text x="121.80" y="571.80" font-size="28" fill="#4d4d4d" text-anchor="middle">0</text>
<line x1="312.14" y1="536.9" x2="312.14" y2="545.25" stroke="#262626" stroke-width="2.5"/>
<text x="312.14" y="571.80" font-size="28" fill="#4d4d4d" text-anchor="middle">20</text>
<line x1="502.48" y1="536.9" x2="502.48" y2="545.25" stroke="#262626" stroke-width="2.5"/>
<text x="502.48" y="571.80" font-size="28" fill="#4d4d4d" text-anchor="middle">40</text>
<line x1="692.82" y1="536.9" x2="692.82" y2="545.25" stroke="#262626" stroke-width="2.5"/>
<text x="692.82" y="571.80" font-size="28" fill="#4d4d4d" text-anchor="middle">60</text>
<line x1="86.05000000000001" y1="62.70" x2="94.4" y2="62.70" stroke="#262626" stroke-width="2.5"/>
<text x="80.35" y="73.00" font-size="28" fill="#4d4d4d" text-anchor="end">10</text>
<line x1="86.05000000000001" y1="122.58" x2="94.4" y2="122.58" stroke="#262626" stroke-width="2.5"/>
<text x="80.35" y="132.88" font-size="28" fill="#4d4d4d" text-anchor="end">8</text>
<line x1="86.05000000000001" y1="182.46" x2="94.4" y2="182.46" stroke="#262626" stroke-width="2.5"/>
<text x="80.35" y="192.76" font-size="28" fill="#4d4d4d" text-anchor="end">6</text>
<line x1="86.05000000000001" y1="242.34" x2="94.4" y2="242.34" stroke="#262626" stroke-width="2.5"/>
<text x="80.35" y="252.64" font-size="28" fill="#4d4d4d" text-anchor="end">4</text>
<line x1="86.05000000000001" y1="302.22" x2="94.4" y2="302.22" stroke="#262626" stroke-width="2.5"/>
<text x="80.35" y="312.52" font-size="28" fill="#4d4d4d" text-anchor="end">2</text>
<line x1="86.05000000000001" y1="362.10" x2="94.4" y2="362.10" stroke="#262626" stroke-width="2.5"/>
<text x="80.35" y="372.40" font-size="28" fill="#4d4d4d" text-anchor="end">0</text>
<line x1="86.05000000000001" y1="421.98" x2="94.4" y2="421.98" stroke="#262626" stroke-width="2.5"/>
<text x="80.35" y="432.28" font-size="28" fill="#4d4d4d" text-anchor="end">-2</text>
<line x1="86.05000000000001" y1="481.86" x2="94.4" y2="481.86" stroke="#262626" stroke-width="2.5"/>
<text x="80.35" y="492.16" font-size="28" fill="#4d4d4d" text-anchor="end">-4</text>
<line x1="854.5" y1="54.7" x2="854.5" y2="538.35" stroke="#000" stroke-width="2.7"/>
<line x1="853.15" y1="537.0" x2="1488.0" y2="537.0" stroke="#000" stroke-width="2.7"/>
<line x1="954.45" y1="537.0" x2="954.45" y2="545.35" stroke="#262626" stroke-width="2.5"/>
<text x="954.45" y="571.90" font-size="28" fill="#4d4d4d" text-anchor="middle">10</text>
<line x1="1066.00" y1="537.0" x2="1066.00" y2="545.35" stroke="#262626" stroke-width="2.5"/>
<text x="1066.00" y="571.90" font-size="28" fill="#4d4d4d" text-anchor="middle">20</text>
<line x1="1177.55" y1="537.0" x2="1177.55" y2="545.35" stroke="#262626" stroke-width="2.5"/>
<text x="1177.55" y="571.90" font-size="28" fill="#4d4d4d" text-anchor="middle">30</text>
<line x1="1289.10" y1="537.0" x2="1289.10" y2="545.35" stroke="#262626" stroke-width="2.5"/>
<text x="1289.10" y="571.90" font-size="28" fill="#4d4d4d" text-anchor="middle">40</text>
<line x1="1400.65" y1="537.0" x2="1400.65" y2="545.35" stroke="#262626" stroke-width="2.5"/>
<text x="1400.65" y="571.90" font-size="28" fill="#4d4d4d" text-anchor="middle">50</text>
<line x1="846.15" y1="81.70" x2="854.5" y2="81.70" stroke="#262626" stroke-width="2.5"/>
<text x="840.45" y="92.00" font-size="28" fill="#4d4d4d" text-anchor="end">2</text>
<line x1="846.15" y1="151.00" x2="854.5" y2="151.00" stroke="#262626" stroke-width="2.5"/>
<text x="840.45" y="161.30" font-size="28" fill="#4d4d4d" text-anchor="end">0</text>
<line x1="846.15" y1="220.30" x2="854.5" y2="220.30" stroke="#262626" stroke-width="2.5"/>
<text x="840.45" y="230.60" font-size="28" fill="#4d4d4d" text-anchor="end">-2</text>
<line x1="846.15" y1="289.60" x2="854.5" y2="289.60" stroke="#262626" stroke-width="2.5"/>
<text x="840.45" y="299.90" font-size="28" fill="#4d4d4d" text-anchor="end">-4</text>
<line x1="846.15" y1="358.90" x2="854.5" y2="358.90" stroke="#262626" stroke-width="2.5"/>
<text x="840.45" y="369.20" font-size="28" fill="#4d4d4d" text-anchor="end">-6</text>
<line x1="846.15" y1="428.20" x2="854.5" y2="428.20" stroke="#262626" stroke-width="2.5"/>
<text x="840.45" y="438.50" font-size="28" fill="#4d4d4d" text-anchor="end">-8</text>
<line x1="846.15" y1="497.50" x2="854.5" y2="497.50" stroke="#262626" stroke-width="2.5"/>
<text x="840.45" y="507.80" font-size="28" fill="#4d4d4d" text-anchor="end">-10</text>
<line x1="88.3" y1="706.6" x2="88.3" y2="1181.4499999999998" stroke="#000" stroke-width="2.7"/>
<line x1="86.95" y1="1180.1" x2="727.9" y2="1180.1" stroke="#000" stroke-width="2.7"/>
<line x1="116.10" y1="1180.1" x2="116.10" y2="1188.4499999999998" stroke="#262626" stroke-width="2.5"/>
<text x="116.10" y="1215.00" font-size="28" fill="#4d4d4d" text-anchor="middle">0</text>
<line x1="308.24" y1="1180.1" x2="308.24" y2="1188.4499999999998" stroke="#262626" stroke-width="2.5"/>
<text x="308.24" y="1215.00" font-size="28" fill="#4d4d4d" text-anchor="middle">20</text>
<line x1="500.38" y1="1180.1" x2="500.38" y2="1188.4499999999998" stroke="#262626" stroke-width="2.5"/>
<text x="500.38" y="1215.00" font-size="28" fill="#4d4d4d" text-anchor="middle">40</text>
<line x1="692.52" y1="1180.1" x2="692.52" y2="1188.4499999999998" stroke="#262626" stroke-width="2.5"/>
<text x="692.52" y="1215.00" font-size="28" fill="#4d4d4d" text-anchor="middle">60</text>
<line x1="79.95" y1="711.48" x2="88.3" y2="711.48" stroke="#262626" stroke-width="2.5"/>
<text x="74.25" y="721.78" font-size="28" fill="#4d4d4d" text-anchor="end">4</text>
<line x1="79.95" y1="787.14" x2="88.3" y2="787.14" stroke="#262626" stroke-width="2.5"/>
<text x="74.25" y="797.44" font-size="28" fill="#4d4d4d" text-anchor="end">2</text>
<line x1="79.95" y1="862.80" x2="88.3" y2="862.80" stroke="#262626" stroke-width="2.5"/>
<text x="74.25" y="873.10" font-size="28" fill="#4d4d4d" text-anchor="end">0</text>
<line x1="79.95" y1="938.46" x2="88.3" y2="938.46" stroke="#262626" stroke-width="2.5"/>
<text x="74.25" y="948.76" font-size="28" fill="#4d4d4d" text-anchor="end">-2</text>
<line x1="79.95" y1="1014.12" x2="88.3" y2="1014.12" stroke="#262626" stroke-width="2.5"/>
<text x="74.25" y="1024.42" font-size="28" fill="#4d4d4d" text-anchor="end">-4</text>
<line x1="79.95" y1="1089.78" x2="88.3" y2="1089.78" stroke="#262626" stroke-width="2.5"/>
<text x="74.25" y="1100.08" font-size="28" fill="#4d4d4d" text-anchor="end">-6</text>
<line x1="79.95" y1="1165.44" x2="88.3" y2="1165.44" stroke="#262626" stroke-width="2.5"/>
<text x="74.25" y="1175.74" font-size="28" fill="#4d4d4d" text-anchor="end">-8</text>
<line x1="848.5" y1="706.5" x2="848.5" y2="1181.9499999999998" stroke="#000" stroke-width="2.7"/>
<line x1="847.15" y1="1180.6" x2="1488.0" y2="1180.6" stroke="#000" stroke-width="2.7"/>
<line x1="949.60" y1="1180.6" x2="949.60" y2="1188.9499999999998" stroke="#262626" stroke-width="2.5"/>
<text x="949.60" y="1215.50" font-size="28" fill="#4d4d4d" text-anchor="middle">10</text>
<line x1="1062.20" y1="1180.6" x2="1062.20" y2="1188.9499999999998" stroke="#262626" stroke-width="2.5"/>
<text x="1062.20" y="1215.50" font-size="28" fill="#4d4d4d" text-anchor="middle">20</text>
<line x1="1174.80" y1="1180.6" x2="1174.80" y2="1188.9499999999998" stroke="#262626" stroke-width="2.5"/>
<text x="1174.80" y="1215.50" font-size="28" fill="#4d4d4d" text-anchor="middle">30</text>
<line x1="1287.40" y1="1180.6" x2="1287.40" y2="1188.9499999999998" stroke="#262626" stroke-width="2.5"/>
<text x="1287.40" y="1215.50" font-size="28" fill="#4d4d4d" text-anchor="middle">40</text>
<line x1="1400.00" y1="1180.6" x2="1400.00" y2="1188.9499999999998" stroke="#262626" stroke-width="2.5"/>
<text x="1400.00" y="1215.50" font-size="28" fill="#4d4d4d" text-anchor="middle">50</text>
<line x1="840.15" y1="777.66" x2="848.5" y2="777.66" stroke="#262626" stroke-width="2.5"/>
<text x="834.45" y="787.96" font-size="28" fill="#4d4d4d" text-anchor="end">1</text>
<line x1="840.15" y1="849.40" x2="848.5" y2="849.40" stroke="#262626" stroke-width="2.5"/>
<text x="834.45" y="859.70" font-size="28" fill="#4d4d4d" text-anchor="end">0</text>
<line x1="840.15" y1="921.14" x2="848.5" y2="921.14" stroke="#262626" stroke-width="2.5"/>
<text x="834.45" y="931.44" font-size="28" fill="#4d4d4d" text-anchor="end">-1</text>
<line x1="840.15" y1="992.88" x2="848.5" y2="992.88" stroke="#262626" stroke-width="2.5"/>
<text x="834.45" y="1003.18" font-size="28" fill="#4d4d4d" text-anchor="end">-2</text>
<line x1="840.15" y1="1064.62" x2="848.5" y2="1064.62" stroke="#262626" stroke-width="2.5"/>
<text x="834.45" y="1074.92" font-size="28" fill="#4d4d4d" text-anchor="end">-3</text>
<line x1="840.15" y1="1136.36" x2="848.5" y2="1136.36" stroke="#262626" stroke-width="2.5"/>
<text x="834.45" y="1146.66" font-size="28" fill="#4d4d4d" text-anchor="end">-4</text>
<text x="411.3" y="30.3" font-size="40" text-anchor="middle" fill="#000">Woody</text>
<text x="1172" y="30.3" font-size="40" text-anchor="middle" fill="#000">Herbaceous</text>
<text x="3.4" y="31.0" font-size="42" font-weight="bold" letter-spacing="1.5" fill="#000">a)</text>
<text x="764.0" y="31.0" font-size="42" font-weight="bold" letter-spacing="1.5" fill="#000">b)</text>
<text x="3.0" y="682.8" font-size="42" font-weight="bold" letter-spacing="1.5" fill="#000">c)</text>
<text x="764.3" y="682.8" font-size="42" font-weight="bold" letter-spacing="1.5" fill="#000">d)</text>
<text transform="translate(33.8,296.3) rotate(-90)" font-size="45.5" text-anchor="middle" fill="#000">SESmpd</text>
<text transform="translate(34.3,944) rotate(-90)" font-size="45.5" text-anchor="middle" fill="#000">SESmntd</text>
<text x="409" y="1264" font-size="46" text-anchor="middle" fill="#000">Latitude (N or S)</text>
<text x="1169.5" y="1264" font-size="46" text-anchor="middle" fill="#000">Latitude (N or S)</text>
</svg></body></html>
